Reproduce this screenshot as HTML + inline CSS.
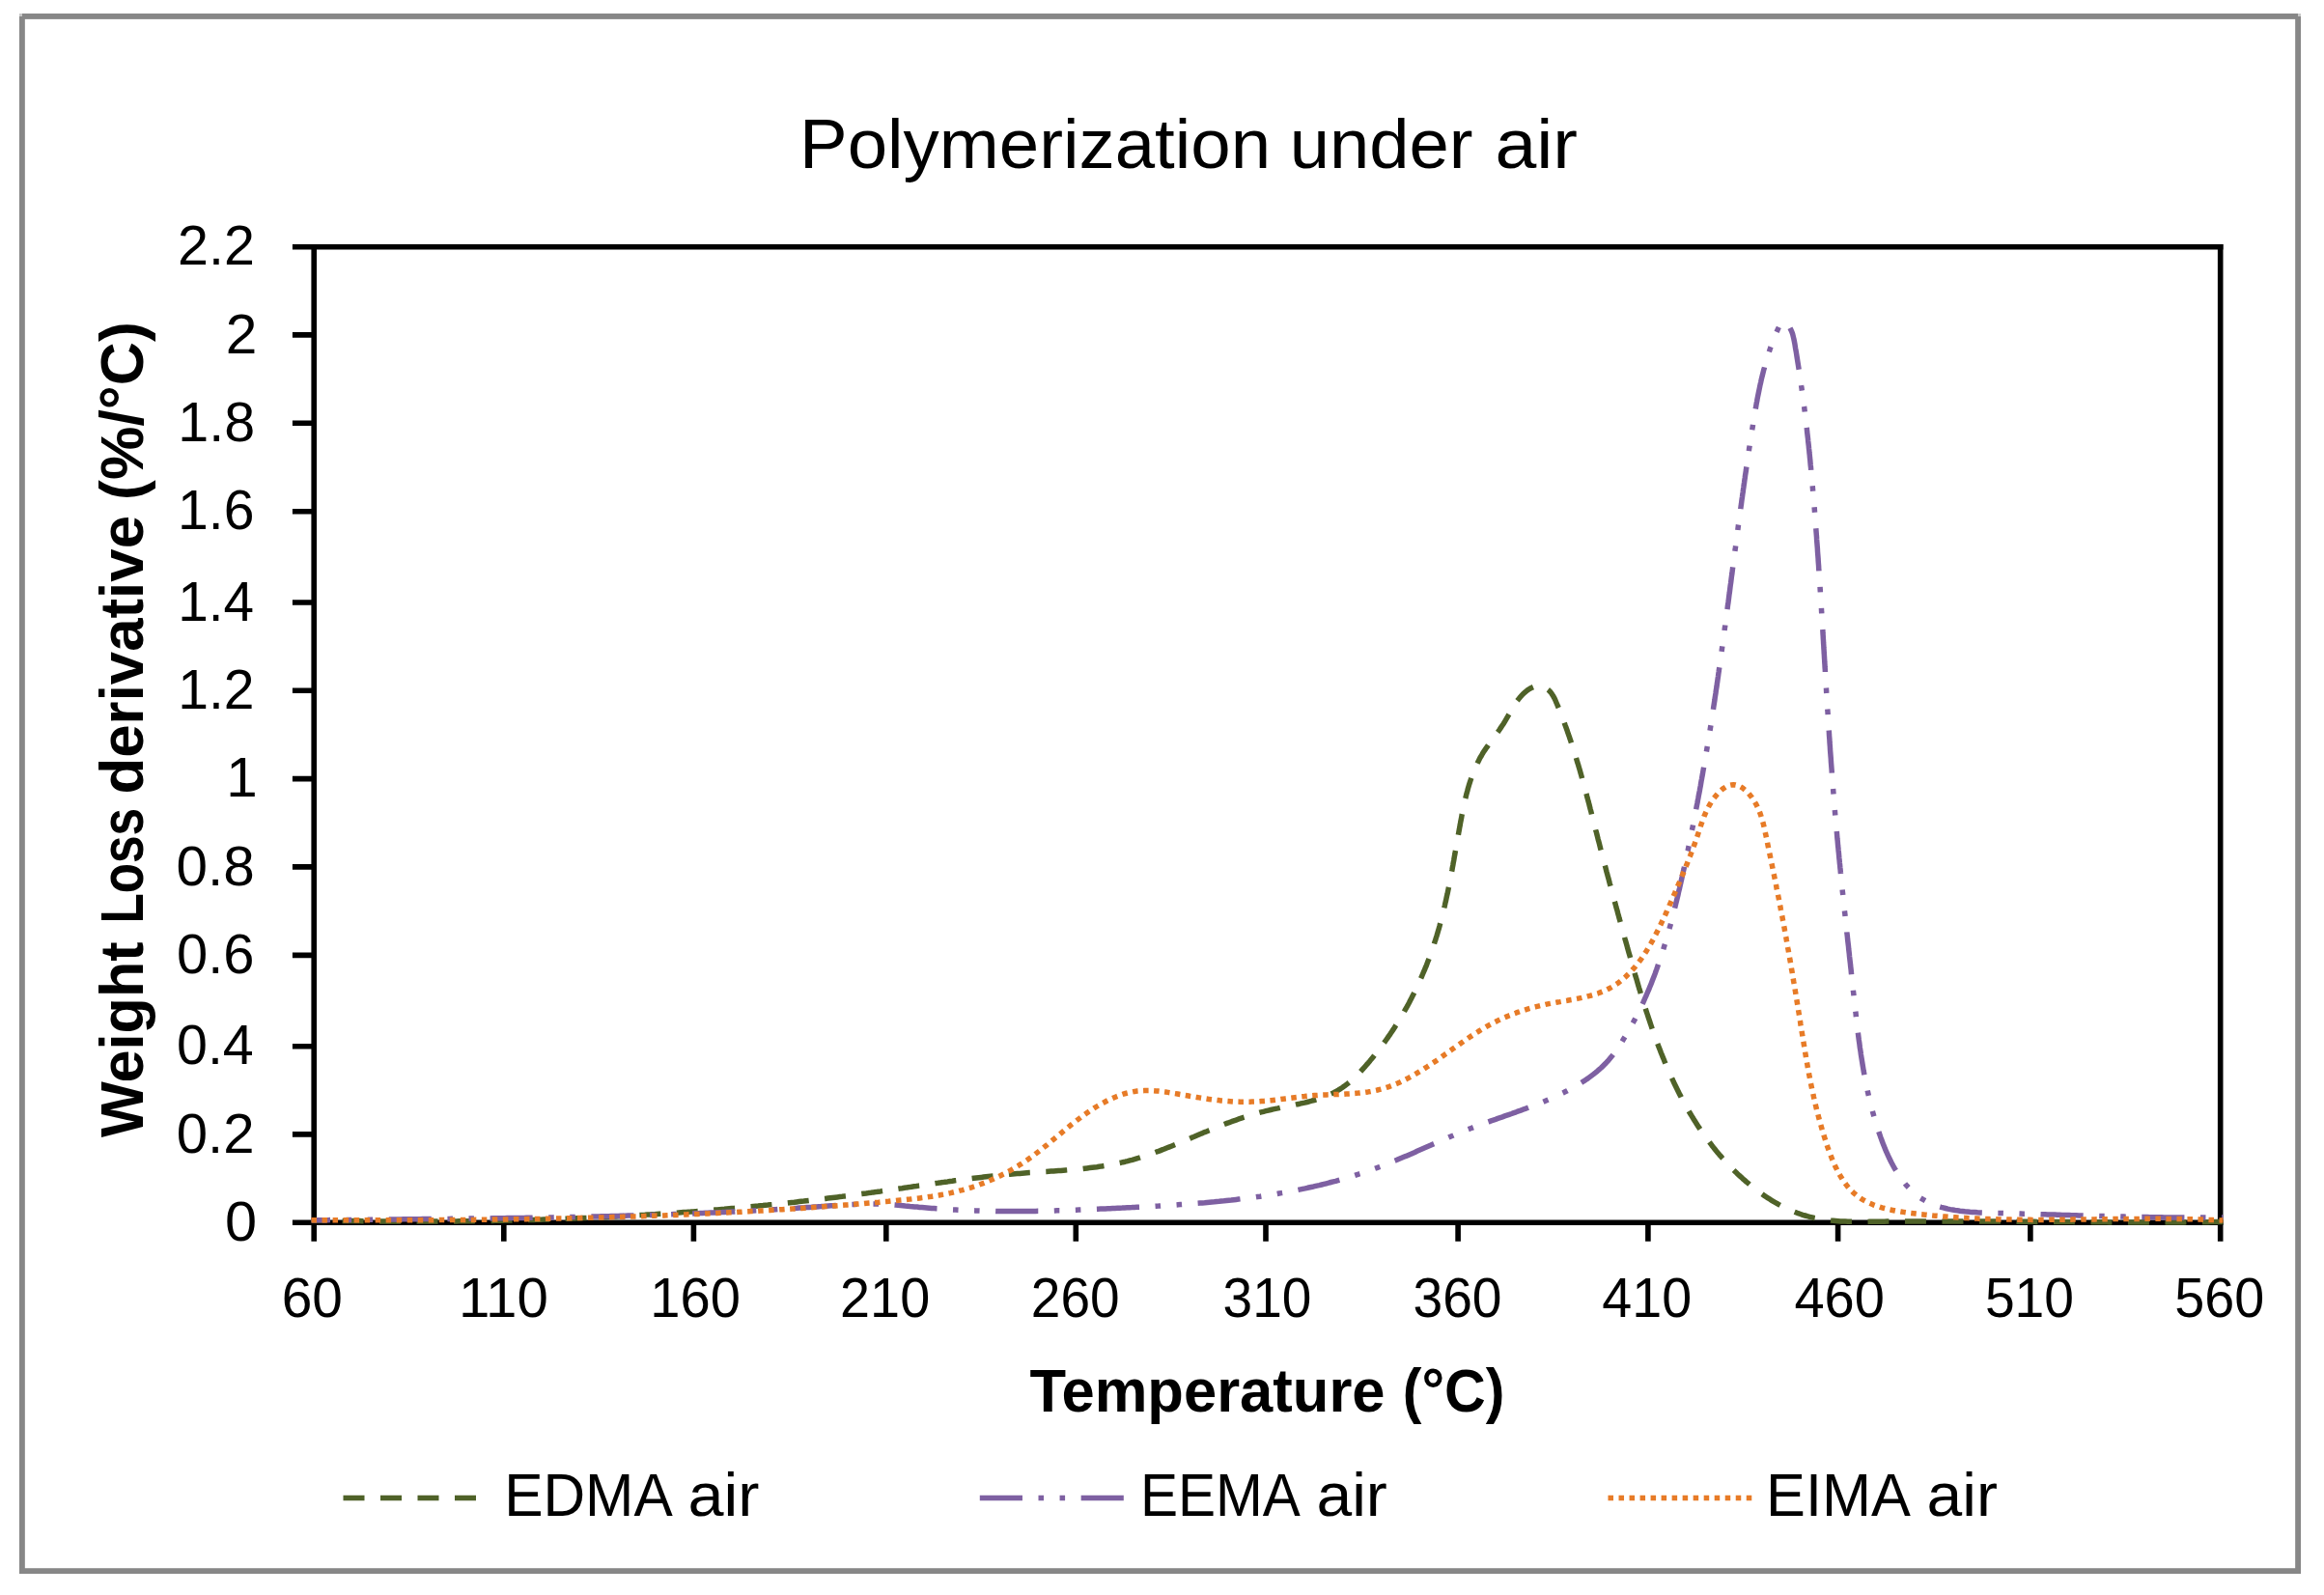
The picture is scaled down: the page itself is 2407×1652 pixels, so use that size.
<!DOCTYPE html>
<html lang="en"><head><meta charset="utf-8"><title>Polymerization under air</title>
<style>html,body{margin:0;padding:0;background:#fff}svg{display:block}text{font-family:'Liberation Sans', Arial, Helvetica, sans-serif;fill:#000}</style></head><body>
<svg width="2407" height="1652" viewBox="0 0 2407 1652">
<rect x="0" y="0" width="2407" height="1652" fill="#fff"/>
<rect x="22.9" y="16.95" width="2357.2" height="1610.2" fill="none" stroke="#878787" stroke-width="5.85"/>
<rect x="20" y="14" width="3" height="3" fill="#c8c8c8"/><rect x="2380" y="14" width="3" height="3" fill="#c8c8c8"/>
<text id="title" font-size="71.7" y="174.4"><tspan x="828.0" textLength="488.1" lengthAdjust="spacingAndGlyphs">Polymerization</tspan> <tspan x="1335.7" textLength="189.8" lengthAdjust="spacingAndGlyphs">under</tspan> <tspan x="1548.4" textLength="85.6" lengthAdjust="spacingAndGlyphs">air</tspan></text>
<g stroke="#000" stroke-width="5.6" fill="none" stroke-linecap="butt">
<path d="M325.2 252.9V1285.8"/>
<path d="M2299.7 252.9V1285.8"/>
<path d="M302.9 255.7H2302.5"/>
<path d="M302.9 1266.2H2302.5"/>
<path d="M302.9 1174.9H325.2M302.9 1083.7H325.2M302.9 989.4H325.2M302.9 897.9H325.2M302.9 806.6H325.2M302.9 715.3H325.2M302.9 624.0H325.2M302.9 529.7H325.2M302.9 438.3H325.2M302.9 346.9H325.2"/>
<path d="M521.8 1266.2V1285.8M718.4 1266.2V1285.8M917.8 1266.2V1285.8M1114.3 1266.2V1285.8M1311.0 1266.2V1285.8M1510.1 1266.2V1285.8M1706.9 1266.2V1285.8M1903.6 1266.2V1285.8M2102.9 1266.2V1285.8"/>
</g>
<text id="xl60" font-size="57" y="1363.8"><tspan x="291.7" textLength="63.2" lengthAdjust="spacingAndGlyphs">60</tspan></text>
<text id="xl110" font-size="57" y="1363.8"><tspan x="475.0" textLength="92.8" lengthAdjust="spacingAndGlyphs">110</tspan></text>
<text id="xl160" font-size="57" y="1363.8"><tspan x="673.3" textLength="93.6" lengthAdjust="spacingAndGlyphs">160</tspan></text>
<text id="xl210" font-size="57" y="1363.8"><tspan x="870.1" textLength="93.1" lengthAdjust="spacingAndGlyphs">210</tspan></text>
<text id="xl260" font-size="57" y="1363.8"><tspan x="1067.8" textLength="91.8" lengthAdjust="spacingAndGlyphs">260</tspan></text>
<text id="xl310" font-size="57" y="1363.8"><tspan x="1266.6" textLength="91.8" lengthAdjust="spacingAndGlyphs">310</tspan></text>
<text id="xl360" font-size="57" y="1363.8"><tspan x="1463.5" textLength="92.0" lengthAdjust="spacingAndGlyphs">360</tspan></text>
<text id="xl410" font-size="57" y="1363.8"><tspan x="1659.3" textLength="92.8" lengthAdjust="spacingAndGlyphs">410</tspan></text>
<text id="xl460" font-size="57" y="1363.8"><tspan x="1858.4" textLength="93.5" lengthAdjust="spacingAndGlyphs">460</tspan></text>
<text id="xl510" font-size="57" y="1363.8"><tspan x="2055.9" textLength="92.1" lengthAdjust="spacingAndGlyphs">510</tspan></text>
<text id="xl560" font-size="57" y="1363.8"><tspan x="2252.3" textLength="93.0" lengthAdjust="spacingAndGlyphs">560</tspan></text>
<text id="yl0" font-size="57" y="1284.8"><tspan x="233.1" textLength="33.1" lengthAdjust="spacingAndGlyphs">0</tspan></text>
<text id="yl0.2" font-size="57" y="1193.5"><tspan x="182.7" textLength="80.8" lengthAdjust="spacingAndGlyphs">0.2</tspan></text>
<text id="yl0.4" font-size="57" y="1102.3"><tspan x="183.0" textLength="79.8" lengthAdjust="spacingAndGlyphs">0.4</tspan></text>
<text id="yl0.6" font-size="57" y="1008.0"><tspan x="183.0" textLength="80.5" lengthAdjust="spacingAndGlyphs">0.6</tspan></text>
<text id="yl0.8" font-size="57" y="916.5"><tspan x="182.6" textLength="81.3" lengthAdjust="spacingAndGlyphs">0.8</tspan></text>
<text id="yl1" font-size="57" y="825.2"><tspan x="234.2" textLength="32.4" lengthAdjust="spacingAndGlyphs">1</tspan></text>
<text id="yl1.2" font-size="57" y="733.9"><tspan x="184.3" textLength="79.3" lengthAdjust="spacingAndGlyphs">1.2</tspan></text>
<text id="yl1.4" font-size="57" y="642.6"><tspan x="184.3" textLength="78.8" lengthAdjust="spacingAndGlyphs">1.4</tspan></text>
<text id="yl1.6" font-size="57" y="548.3"><tspan x="184.1" textLength="79.3" lengthAdjust="spacingAndGlyphs">1.6</tspan></text>
<text id="yl1.8" font-size="57" y="456.9"><tspan x="184.3" textLength="79.8" lengthAdjust="spacingAndGlyphs">1.8</tspan></text>
<text id="yl2" font-size="57" y="365.5"><tspan x="233.7" textLength="32.6" lengthAdjust="spacingAndGlyphs">2</tspan></text>
<text id="yl2.2" font-size="57" y="274.3"><tspan x="184.1" textLength="79.8" lengthAdjust="spacingAndGlyphs">2.2</tspan></text>
<text id="xtitle" font-size="63.5" font-weight="bold" y="1462.3"><tspan x="1066.4" textLength="368.2" lengthAdjust="spacingAndGlyphs">Temperature</tspan> <tspan x="1452.8" textLength="105.7" lengthAdjust="spacingAndGlyphs">(°C)</tspan></text>
<text id="ytitle" font-size="63.5" font-weight="bold" transform="translate(148.3 0) rotate(-90)" y="0"><tspan x="-1178.0" textLength="202.6" lengthAdjust="spacingAndGlyphs">Weight</tspan> <tspan x="-956.6" textLength="119.5" lengthAdjust="spacingAndGlyphs">Loss</tspan> <tspan x="-822.5" textLength="288.5" lengthAdjust="spacingAndGlyphs">derivative</tspan> <tspan x="-517.9" textLength="184.6" lengthAdjust="spacingAndGlyphs">(%/°C)</tspan></text>
<g fill="none" stroke-width="5.5" stroke-linecap="butt" stroke-linejoin="round">
<path id="cg" d="M322.4 1264.1 L324.9 1263.8 L327.4 1263.9 L329.9 1263.9 L332.4 1264.0 L334.9 1264.0 L337.4 1264.1 L339.9 1264.1 L342.4 1264.2 L344.9 1264.2 L347.4 1264.3 L349.9 1264.3 L352.4 1264.3 L354.9 1264.4 L357.5 1264.4 L360.0 1264.5 L362.5 1264.5 L365.0 1264.5 L367.5 1264.6 L370.0 1264.6 L372.5 1264.6 L375.0 1264.7 L377.5 1264.7 L380.0 1264.7 L382.5 1264.8 L385.0 1264.8 L387.5 1264.8 L390.0 1264.8 L392.5 1264.9 L395.0 1264.9 L397.5 1264.9 L400.0 1264.9 L402.6 1264.9 L405.1 1265.0 L407.6 1265.0 L410.1 1265.0 L412.6 1265.0 L415.1 1265.0 L417.6 1265.0 L420.1 1265.0 L422.6 1265.0 L425.1 1265.0 L427.6 1265.0 L430.1 1265.0 L432.6 1265.0 L435.1 1265.0 L437.6 1265.0 L440.1 1265.0 L442.6 1265.0 L445.1 1265.0 L447.7 1265.0 L450.2 1265.0 L452.7 1265.0 L455.2 1265.0 L457.7 1265.0 L460.2 1265.0 L462.7 1264.9 L465.2 1264.9 L467.7 1264.9 L470.2 1264.9 L472.7 1264.9 L475.2 1264.8 L477.7 1264.8 L480.2 1264.8 L482.7 1264.8 L485.2 1264.7 L487.7 1264.7 L490.2 1264.7 L492.7 1264.6 L495.3 1264.6 L497.8 1264.6 L500.3 1264.5 L502.8 1264.5 L505.3 1264.5 L507.8 1264.4 L510.3 1264.4 L512.8 1264.3 L515.3 1264.3 L517.8 1264.2 L520.3 1264.2 L522.8 1264.1 L525.3 1264.1 L527.8 1264.0 L530.3 1264.0 L532.8 1263.9 L535.3 1263.8 L537.8 1263.8 L540.3 1263.7 L542.8 1263.6 L545.3 1263.6 L547.9 1263.5 L550.4 1263.4 L552.9 1263.4 L555.4 1263.3 L557.9 1263.2 L560.4 1263.2 L562.9 1263.1 L565.4 1263.0 L567.9 1262.9 L570.4 1262.8 L572.9 1262.7 L575.4 1262.7 L577.9 1262.6 L580.4 1262.5 L582.9 1262.4 L585.4 1262.3 L587.9 1262.2 L590.4 1262.1 L592.9 1262.0 L595.4 1261.9 L597.9 1261.8 L600.4 1261.7 L602.9 1261.6 L605.4 1261.5 L607.9 1261.4 L610.4 1261.3 L612.9 1261.2 L615.4 1261.1 L617.9 1260.9 L620.4 1260.8 L622.9 1260.7 L625.4 1260.6 L627.9 1260.5 L630.4 1260.3 L632.9 1260.2 L635.4 1260.1 L637.9 1260.0 L640.4 1259.8 L642.9 1259.7 L645.4 1259.6 L647.9 1259.4 L650.4 1259.3 L652.9 1259.2 L655.4 1259.0 L657.9 1258.9 L660.4 1258.7 L662.9 1258.6 L665.4 1258.4 L667.9 1258.3 L670.4 1258.1 L672.9 1258.0 L675.4 1257.8 L677.9 1257.7 L680.4 1257.5 L682.9 1257.3 L685.4 1257.2 L687.9 1257.0 L690.4 1256.8 L692.9 1256.7 L695.4 1256.5 L697.9 1256.3 L700.4 1256.2 L702.9 1256.0 L705.4 1255.8 L707.9 1255.6 L710.4 1255.4 L712.9 1255.2 L715.4 1255.1 L717.9 1254.9 L720.4 1254.7 L722.9 1254.5 L725.4 1254.3 L727.9 1254.1 L730.4 1253.9 L732.9 1253.7 L735.4 1253.5 L737.9 1253.3 L740.4 1253.1 L742.8 1252.9 L745.3 1252.7 L747.8 1252.5 L750.3 1252.3 L752.8 1252.0 L755.3 1251.8 L757.8 1251.6 L760.3 1251.4 L762.8 1251.2 L765.3 1250.9 L767.8 1250.7 L770.3 1250.5 L772.8 1250.2 L775.3 1250.0 L777.7 1249.8 L780.2 1249.5 L782.7 1249.3 L785.2 1249.1 L787.7 1248.8 L790.2 1248.6 L792.7 1248.3 L795.2 1248.1 L797.7 1247.8 L800.2 1247.6 L802.7 1247.3 L805.1 1247.0 L807.6 1246.8 L810.1 1246.5 L812.6 1246.3 L815.1 1246.0 L817.6 1245.7 L820.1 1245.4 L822.6 1245.2 L825.1 1244.9 L827.5 1244.6 L830.0 1244.3 L832.5 1244.1 L835.0 1243.8 L837.5 1243.5 L840.0 1243.2 L842.5 1242.9 L844.9 1242.6 L847.4 1242.3 L849.9 1242.0 L852.4 1241.7 L854.9 1241.4 L857.4 1241.1 L859.9 1240.8 L862.3 1240.5 L864.8 1240.2 L867.3 1239.9 L869.8 1239.6 L872.3 1239.3 L874.8 1238.9 L877.2 1238.6 L879.7 1238.3 L882.2 1238.0 L884.7 1237.6 L887.2 1237.3 L889.7 1237.0 L892.1 1236.6 L894.6 1236.3 L897.1 1236.0 L899.6 1235.6 L902.1 1235.3 L904.5 1234.9 L907.0 1234.6 L909.5 1234.2 L912.0 1233.9 L914.5 1233.5 L916.9 1233.2 L919.4 1232.8 L921.9 1232.5 L924.4 1232.1 L926.8 1231.7 L929.3 1231.4 L931.8 1231.0 L934.3 1230.7 L936.8 1230.3 L939.2 1229.9 L941.7 1229.6 L944.2 1229.2 L946.7 1228.8 L949.1 1228.5 L951.6 1228.1 L954.1 1227.8 L956.6 1227.4 L959.1 1227.0 L961.5 1226.7 L964.0 1226.3 L966.5 1226.0 L969.0 1225.6 L971.5 1225.3 L973.9 1224.9 L976.4 1224.6 L978.9 1224.2 L981.4 1223.9 L983.9 1223.5 L986.3 1223.2 L988.8 1222.8 L991.3 1222.5 L993.8 1222.2 L996.3 1221.9 L998.8 1221.5 L1001.3 1221.2 L1003.7 1220.9 L1006.2 1220.6 L1008.7 1220.3 L1011.2 1220.0 L1013.7 1219.7 L1016.2 1219.4 L1018.7 1219.1 L1021.2 1218.8 L1023.6 1218.5 L1026.1 1218.2 L1028.6 1218.0 L1031.1 1217.7 L1033.6 1217.5 L1036.1 1217.2 L1038.6 1217.0 L1041.1 1216.7 L1043.6 1216.5 L1046.1 1216.2 L1048.6 1216.0 L1051.1 1215.8 L1053.6 1215.6 L1056.1 1215.4 L1058.6 1215.2 L1061.1 1215.0 L1063.6 1214.8 L1066.1 1214.6 L1068.6 1214.5 L1071.1 1214.3 L1073.6 1214.1 L1076.2 1214.0 L1078.7 1213.8 L1081.2 1213.6 L1083.7 1213.5 L1086.2 1213.3 L1088.7 1213.1 L1091.2 1213.0 L1093.7 1212.8 L1096.2 1212.6 L1098.7 1212.4 L1101.2 1212.2 L1103.7 1212.0 L1106.2 1211.8 L1108.7 1211.6 L1111.2 1211.4 L1113.7 1211.2 L1116.2 1211.0 L1118.7 1210.7 L1121.2 1210.5 L1123.6 1210.2 L1126.1 1209.9 L1128.6 1209.6 L1131.1 1209.3 L1133.6 1209.0 L1136.0 1208.7 L1138.5 1208.3 L1141.0 1207.9 L1143.4 1207.6 L1145.9 1207.2 L1148.3 1206.7 L1150.8 1206.3 L1153.2 1205.8 L1155.7 1205.3 L1158.1 1204.8 L1160.6 1204.3 L1163.0 1203.7 L1165.4 1203.2 L1167.8 1202.6 L1170.3 1201.9 L1172.7 1201.3 L1175.1 1200.6 L1177.5 1199.9 L1179.9 1199.2 L1182.3 1198.4 L1184.7 1197.7 L1187.1 1196.9 L1189.4 1196.1 L1191.8 1195.2 L1194.2 1194.4 L1196.6 1193.5 L1198.9 1192.7 L1201.3 1191.8 L1203.6 1190.9 L1206.0 1190.0 L1208.3 1189.0 L1210.7 1188.1 L1213.0 1187.2 L1215.4 1186.2 L1217.7 1185.3 L1220.0 1184.3 L1222.4 1183.3 L1224.7 1182.4 L1227.0 1181.4 L1229.3 1180.4 L1231.7 1179.4 L1234.0 1178.4 L1236.3 1177.5 L1238.6 1176.5 L1240.9 1175.5 L1243.2 1174.5 L1245.5 1173.6 L1247.8 1172.6 L1250.1 1171.7 L1252.4 1170.7 L1254.7 1169.8 L1257.0 1168.9 L1259.3 1167.9 L1261.6 1167.0 L1263.9 1166.1 L1266.2 1165.2 L1268.5 1164.3 L1270.8 1163.4 L1273.1 1162.6 L1275.5 1161.7 L1277.8 1160.9 L1280.1 1160.1 L1282.4 1159.2 L1284.8 1158.4 L1287.1 1157.6 L1289.5 1156.9 L1291.9 1156.1 L1294.2 1155.4 L1296.6 1154.6 L1299.0 1153.9 L1301.4 1153.2 L1303.8 1152.6 L1306.2 1151.9 L1308.7 1151.3 L1311.1 1150.7 L1313.6 1150.1 L1316.1 1149.5 L1318.6 1148.9 L1321.1 1148.4 L1323.6 1147.9 L1326.1 1147.3 L1328.6 1146.8 L1331.1 1146.3 L1333.6 1145.8 L1336.2 1145.3 L1338.7 1144.8 L1341.2 1144.3 L1343.7 1143.7 L1346.2 1143.2 L1348.7 1142.6 L1351.2 1142.1 L1353.7 1141.5 L1356.1 1140.8 L1358.6 1140.2 L1361.0 1139.5 L1363.4 1138.8 L1365.8 1138.0 L1368.2 1137.2 L1370.5 1136.4 L1372.8 1135.5 L1375.1 1134.6 L1377.3 1133.6 L1379.6 1132.6 L1381.8 1131.5 L1383.9 1130.3 L1386.0 1129.1 L1388.1 1127.8 L1390.2 1126.5 L1392.2 1125.1 L1394.1 1123.6 L1396.1 1122.1 L1398.0 1120.5 L1399.8 1118.9 L1401.7 1117.2 L1403.5 1115.5 L1405.3 1113.8 L1407.0 1112.0 L1408.8 1110.2 L1410.5 1108.3 L1412.2 1106.5 L1413.9 1104.6 L1415.5 1102.7 L1417.2 1100.8 L1418.8 1098.9 L1420.4 1096.9 L1422.0 1095.0 L1423.6 1093.0 L1425.2 1091.1 L1426.7 1089.1 L1428.3 1087.1 L1429.8 1085.1 L1431.3 1083.1 L1432.8 1081.0 L1434.3 1079.0 L1435.7 1077.0 L1437.2 1074.9 L1438.6 1072.8 L1440.0 1070.8 L1441.4 1068.7 L1442.8 1066.6 L1444.2 1064.5 L1445.5 1062.3 L1446.9 1060.2 L1448.2 1058.1 L1449.5 1055.9 L1450.8 1053.8 L1452.1 1051.6 L1453.4 1049.5 L1454.6 1047.3 L1455.8 1045.1 L1457.1 1042.9 L1458.3 1040.7 L1459.5 1038.5 L1460.6 1036.3 L1461.8 1034.0 L1462.9 1031.8 L1464.1 1029.5 L1465.2 1027.3 L1466.3 1025.0 L1467.4 1022.8 L1468.4 1020.5 L1469.5 1018.2 L1470.5 1015.9 L1471.5 1013.6 L1472.5 1011.3 L1473.5 1009.0 L1474.5 1006.7 L1475.5 1004.4 L1476.4 1002.1 L1477.4 999.8 L1478.3 997.4 L1479.2 995.1 L1480.1 992.8 L1480.9 990.4 L1481.8 988.1 L1482.6 985.7 L1483.5 983.4 L1484.3 981.0 L1485.1 978.6 L1485.8 976.2 L1486.6 973.9 L1487.3 971.5 L1488.1 969.1 L1488.8 966.7 L1489.5 964.3 L1490.2 961.9 L1490.9 959.5 L1491.5 957.1 L1492.2 954.7 L1492.8 952.3 L1493.4 949.9 L1494.0 947.5 L1494.6 945.1 L1495.2 942.7 L1495.8 940.2 L1496.4 937.8 L1496.9 935.4 L1497.5 933.0 L1498.0 930.5 L1498.5 928.1 L1499.1 925.7 L1499.6 923.2 L1500.1 920.8 L1500.6 918.3 L1501.1 915.9 L1501.5 913.4 L1502.0 911.0 L1502.5 908.5 L1503.0 906.1 L1503.4 903.6 L1503.9 901.2 L1504.3 898.7 L1504.8 896.2 L1505.2 893.8 L1505.7 891.3 L1506.1 888.8 L1506.5 886.4 L1507.0 883.9 L1507.4 881.4 L1507.9 878.9 L1508.3 876.5 L1508.7 874.0 L1509.2 871.5 L1509.6 869.0 L1510.0 866.5 L1510.5 864.1 L1510.9 861.6 L1511.4 859.1 L1511.8 856.6 L1512.3 854.1 L1512.7 851.6 L1513.2 849.1 L1513.7 846.6 L1514.1 844.1 L1514.6 841.6 L1515.1 839.2 L1515.6 836.7 L1516.2 834.2 L1516.7 831.7 L1517.2 829.3 L1517.8 826.8 L1518.4 824.4 L1519.0 821.9 L1519.7 819.5 L1520.3 817.1 L1521.0 814.7 L1521.7 812.3 L1522.5 809.9 L1523.3 807.5 L1524.1 805.2 L1524.9 802.8 L1525.8 800.5 L1526.7 798.2 L1527.7 795.9 L1528.7 793.7 L1529.7 791.4 L1530.8 789.2 L1531.9 787.0 L1533.0 784.8 L1534.3 782.7 L1535.5 780.5 L1536.8 778.4 L1538.2 776.4 L1539.6 774.3 L1541.0 772.3 L1542.5 770.2 L1543.9 768.2 L1545.4 766.2 L1546.9 764.2 L1548.4 762.1 L1549.9 760.1 L1551.4 758.1 L1552.9 756.0 L1554.3 753.9 L1555.7 751.8 L1557.1 749.7 L1558.4 747.6 L1559.7 745.4 L1561.0 743.2 L1562.2 741.0 L1563.5 738.8 L1564.7 736.6 L1566.0 734.4 L1567.3 732.2 L1568.6 730.1 L1570.0 728.0 L1571.4 725.9 L1573.0 723.9 L1574.5 722.0 L1576.2 720.1 L1578.0 718.3 L1579.9 716.6 L1582.0 714.9 L1584.1 713.5 L1586.4 712.3 L1588.7 711.3 L1591.0 710.7 L1593.4 710.5 L1595.8 710.6 L1598.0 711.2 L1600.2 712.1 L1602.2 713.4 L1604.0 714.8 L1605.6 716.5 L1607.1 718.4 L1608.4 720.4 L1609.6 722.6 L1610.7 724.8 L1611.7 727.2 L1612.7 729.5 L1613.7 731.9 L1614.7 734.2 L1615.6 736.6 L1616.5 739.0 L1617.5 741.4 L1618.4 743.7 L1619.3 746.1 L1620.2 748.5 L1621.0 750.9 L1621.9 753.3 L1622.8 755.7 L1623.6 758.1 L1624.4 760.5 L1625.3 762.9 L1626.1 765.3 L1626.9 767.7 L1627.7 770.1 L1628.5 772.5 L1629.2 774.9 L1630.0 777.3 L1630.8 779.7 L1631.5 782.1 L1632.3 784.5 L1633.0 787.0 L1633.7 789.4 L1634.5 791.8 L1635.2 794.2 L1635.9 796.6 L1636.6 799.1 L1637.3 801.5 L1638.0 803.9 L1638.6 806.3 L1639.3 808.8 L1640.0 811.2 L1640.7 813.6 L1641.3 816.0 L1642.0 818.5 L1642.6 820.9 L1643.3 823.3 L1643.9 825.8 L1644.6 828.2 L1645.2 830.6 L1645.9 833.0 L1646.5 835.5 L1647.1 837.9 L1647.8 840.3 L1648.4 842.8 L1649.0 845.2 L1649.6 847.6 L1650.3 850.0 L1650.9 852.4 L1651.5 854.9 L1652.1 857.3 L1652.7 859.7 L1653.4 862.1 L1654.0 864.5 L1654.6 866.9 L1655.2 869.4 L1655.9 871.8 L1656.5 874.2 L1657.1 876.6 L1657.7 879.0 L1658.4 881.4 L1659.0 883.8 L1659.6 886.2 L1660.2 888.6 L1660.9 891.0 L1661.5 893.4 L1662.1 895.8 L1662.8 898.2 L1663.4 900.6 L1664.0 903.0 L1664.7 905.4 L1665.3 907.8 L1666.0 910.1 L1666.6 912.5 L1667.2 914.9 L1667.9 917.3 L1668.5 919.7 L1669.2 922.1 L1669.8 924.5 L1670.5 926.9 L1671.1 929.3 L1671.8 931.7 L1672.4 934.1 L1673.1 936.4 L1673.7 938.8 L1674.4 941.2 L1675.1 943.6 L1675.7 946.0 L1676.4 948.4 L1677.0 950.8 L1677.7 953.2 L1678.4 955.6 L1679.0 958.0 L1679.7 960.4 L1680.4 962.8 L1681.0 965.2 L1681.7 967.6 L1682.4 970.0 L1683.0 972.4 L1683.7 974.8 L1684.4 977.2 L1685.1 979.7 L1685.7 982.1 L1686.4 984.5 L1687.1 986.9 L1687.8 989.3 L1688.5 991.8 L1689.2 994.2 L1689.8 996.6 L1690.5 999.0 L1691.2 1001.5 L1691.9 1003.9 L1692.6 1006.3 L1693.3 1008.8 L1694.0 1011.2 L1694.8 1013.6 L1695.5 1016.0 L1696.2 1018.5 L1696.9 1020.9 L1697.6 1023.3 L1698.4 1025.8 L1699.1 1028.2 L1699.8 1030.6 L1700.6 1033.0 L1701.3 1035.5 L1702.1 1037.9 L1702.9 1040.3 L1703.6 1042.7 L1704.4 1045.2 L1705.2 1047.6 L1706.0 1050.0 L1706.8 1052.4 L1707.6 1054.8 L1708.4 1057.2 L1709.2 1059.6 L1710.0 1062.0 L1710.8 1064.4 L1711.6 1066.8 L1712.5 1069.2 L1713.3 1071.6 L1714.2 1073.9 L1715.1 1076.3 L1715.9 1078.7 L1716.8 1081.1 L1717.7 1083.4 L1718.6 1085.8 L1719.5 1088.1 L1720.4 1090.5 L1721.4 1092.8 L1722.3 1095.2 L1723.3 1097.5 L1724.2 1099.8 L1725.2 1102.1 L1726.2 1104.5 L1727.2 1106.8 L1728.2 1109.1 L1729.2 1111.4 L1730.2 1113.6 L1731.2 1115.9 L1732.3 1118.2 L1733.3 1120.5 L1734.4 1122.7 L1735.5 1125.0 L1736.6 1127.2 L1737.7 1129.5 L1738.8 1131.7 L1739.9 1133.9 L1741.1 1136.1 L1742.2 1138.3 L1743.4 1140.5 L1744.6 1142.7 L1745.8 1144.9 L1747.0 1147.0 L1748.2 1149.2 L1749.4 1151.3 L1750.7 1153.5 L1752.0 1155.6 L1753.3 1157.7 L1754.5 1159.8 L1755.9 1161.9 L1757.2 1164.0 L1758.5 1166.1 L1759.9 1168.1 L1761.3 1170.2 L1762.7 1172.2 L1764.1 1174.2 L1765.5 1176.3 L1766.9 1178.3 L1768.4 1180.3 L1769.9 1182.2 L1771.4 1184.2 L1772.9 1186.2 L1774.4 1188.1 L1775.9 1190.0 L1777.5 1192.0 L1779.1 1193.9 L1780.7 1195.8 L1782.3 1197.6 L1783.9 1199.5 L1785.6 1201.4 L1787.2 1203.2 L1788.9 1205.0 L1790.6 1206.8 L1792.4 1208.6 L1794.1 1210.4 L1795.9 1212.2 L1797.7 1213.9 L1799.5 1215.7 L1801.3 1217.4 L1803.2 1219.1 L1805.0 1220.8 L1806.9 1222.4 L1808.8 1224.1 L1810.8 1225.7 L1812.7 1227.4 L1814.7 1229.0 L1816.7 1230.5 L1818.7 1232.1 L1820.7 1233.6 L1822.8 1235.1 L1824.8 1236.6 L1826.9 1238.1 L1829.0 1239.5 L1831.1 1240.9 L1833.3 1242.2 L1835.4 1243.6 L1837.6 1244.9 L1839.8 1246.1 L1842.0 1247.4 L1844.2 1248.6 L1846.4 1249.7 L1848.7 1250.8 L1850.9 1251.9 L1853.2 1253.0 L1855.5 1254.0 L1857.8 1254.9 L1860.1 1255.8 L1862.4 1256.7 L1864.8 1257.5 L1867.1 1258.3 L1869.5 1259.0 L1871.9 1259.7 L1874.3 1260.3 L1876.7 1260.9 L1879.1 1261.5 L1881.5 1261.9 L1883.9 1262.4 L1886.4 1262.8 L1888.8 1263.2 L1891.3 1263.5 L1893.8 1263.8 L1896.2 1264.1 L1898.7 1264.3 L1901.2 1264.5 L1903.7 1264.7 L1906.2 1264.9 L1908.7 1265.0 L1911.2 1265.1 L1913.8 1265.2 L1916.3 1265.3 L1918.8 1265.3 L1921.3 1265.4 L1923.9 1265.4 L1926.4 1265.4 L1928.9 1265.4 L1931.5 1265.4 L1934.0 1265.4 L1936.5 1265.3 L1939.1 1265.3 L1941.6 1265.3 L1944.2 1265.2 L1946.7 1265.2 L1949.2 1265.2 L1951.8 1265.2 L1954.3 1265.1 L1956.8 1265.1 L1959.4 1265.1 L1961.9 1265.1 L1964.4 1265.1 L1966.9 1265.0 L1969.5 1265.0 L1972.0 1265.0 L1974.5 1265.0 L1977.0 1265.0 L1979.6 1265.0 L1982.1 1265.0 L1984.6 1264.9 L1987.1 1264.9 L1989.6 1264.9 L1992.1 1264.9 L1994.7 1264.9 L1997.2 1264.9 L1999.7 1264.9 L2002.2 1264.9 L2004.7 1264.9 L2007.2 1264.9 L2009.7 1264.9 L2012.2 1264.9 L2014.8 1264.9 L2017.3 1264.9 L2019.8 1264.9 L2022.3 1264.9 L2024.8 1264.9 L2027.3 1264.9 L2029.8 1264.9 L2032.3 1264.9 L2034.8 1264.9 L2037.3 1264.9 L2039.8 1265.0 L2042.3 1265.0 L2044.8 1265.0 L2047.3 1265.0 L2049.8 1265.0 L2052.3 1265.0 L2054.8 1265.0 L2057.3 1265.0 L2059.8 1265.0 L2062.3 1265.1 L2064.8 1265.1 L2067.3 1265.1 L2069.8 1265.1 L2072.3 1265.1 L2074.8 1265.1 L2077.3 1265.1 L2079.8 1265.2 L2082.3 1265.2 L2084.8 1265.2 L2087.3 1265.2 L2089.7 1265.2 L2092.2 1265.2 L2094.7 1265.3 L2097.2 1265.3 L2099.7 1265.3 L2102.2 1265.3 L2104.7 1265.3 L2107.2 1265.3 L2109.7 1265.4 L2112.2 1265.4 L2114.7 1265.4 L2117.2 1265.4 L2119.6 1265.4 L2122.1 1265.5 L2124.6 1265.5 L2127.1 1265.5 L2129.6 1265.5 L2132.1 1265.5 L2134.6 1265.6 L2137.1 1265.6 L2139.6 1265.6 L2142.1 1265.6 L2144.6 1265.6 L2147.0 1265.6 L2149.5 1265.7 L2152.0 1265.7 L2154.5 1265.7 L2157.0 1265.7 L2159.5 1265.7 L2162.0 1265.7 L2164.5 1265.8 L2167.0 1265.8 L2169.5 1265.8 L2172.0 1265.8 L2174.5 1265.8 L2177.0 1265.8 L2179.5 1265.8 L2181.9 1265.8 L2184.4 1265.9 L2186.9 1265.9 L2189.4 1265.9 L2191.9 1265.9 L2194.4 1265.9 L2196.9 1265.9 L2199.4 1265.9 L2201.9 1265.9 L2204.4 1265.9 L2206.9 1265.9 L2209.4 1265.9 L2211.9 1265.9 L2214.4 1266.0 L2216.9 1266.0 L2219.4 1266.0 L2221.9 1266.0 L2224.4 1266.0 L2226.9 1266.0 L2229.4 1266.0 L2231.9 1266.0 L2234.4 1266.0 L2236.9 1266.0 L2239.5 1265.9 L2242.0 1265.9 L2244.5 1265.9 L2247.0 1265.9 L2249.5 1265.9 L2252.0 1265.9 L2254.5 1265.9 L2257.0 1265.9 L2259.5 1265.9 L2262.1 1265.9 L2264.6 1265.8 L2267.1 1265.8 L2269.6 1265.8 L2272.1 1265.8 L2274.6 1265.8 L2277.2 1265.8 L2279.7 1265.7 L2282.2 1265.7 L2284.7 1265.7 L2287.2 1265.7 L2289.8 1265.6 L2292.3 1265.6 L2294.8 1265.6 L2297.4 1265.5 L2299.9 1265.5 L2302.4 1265.5" stroke="#4f6228" stroke-dasharray="22 16.5" stroke-dashoffset="6.3"/>
<path id="cp" d="M322.4 1263.8 L324.9 1263.8 L327.4 1263.8 L329.9 1263.8 L332.4 1263.8 L334.9 1263.7 L337.4 1263.7 L339.9 1263.7 L342.4 1263.6 L344.9 1263.6 L347.5 1263.6 L350.0 1263.5 L352.5 1263.5 L355.0 1263.5 L357.5 1263.5 L360.0 1263.4 L362.5 1263.4 L365.0 1263.4 L367.5 1263.4 L370.0 1263.3 L372.5 1263.3 L375.0 1263.3 L377.5 1263.2 L380.0 1263.2 L382.5 1263.2 L385.0 1263.2 L387.5 1263.1 L390.0 1263.1 L392.5 1263.1 L395.0 1263.1 L397.6 1263.0 L400.1 1263.0 L402.6 1263.0 L405.1 1263.0 L407.6 1262.9 L410.1 1262.9 L412.6 1262.9 L415.1 1262.9 L417.6 1262.8 L420.1 1262.8 L422.6 1262.8 L425.1 1262.8 L427.6 1262.7 L430.1 1262.7 L432.6 1262.7 L435.1 1262.7 L437.6 1262.6 L440.1 1262.6 L442.6 1262.6 L445.1 1262.6 L447.6 1262.5 L450.1 1262.5 L452.6 1262.5 L455.1 1262.5 L457.6 1262.4 L460.1 1262.4 L462.6 1262.4 L465.1 1262.4 L467.6 1262.3 L470.1 1262.3 L472.7 1262.3 L475.2 1262.2 L477.7 1262.2 L480.2 1262.2 L482.7 1262.2 L485.2 1262.1 L487.7 1262.1 L490.2 1262.1 L492.7 1262.0 L495.2 1262.0 L497.7 1262.0 L500.2 1262.0 L502.7 1261.9 L505.2 1261.9 L507.7 1261.9 L510.2 1261.8 L512.7 1261.8 L515.2 1261.8 L517.7 1261.7 L520.2 1261.7 L522.7 1261.7 L525.2 1261.6 L527.7 1261.6 L530.2 1261.6 L532.7 1261.5 L535.2 1261.5 L537.7 1261.5 L540.2 1261.4 L542.7 1261.4 L545.2 1261.3 L547.7 1261.3 L550.2 1261.3 L552.7 1261.2 L555.2 1261.2 L557.7 1261.1 L560.2 1261.1 L562.7 1261.1 L565.2 1261.0 L567.7 1261.0 L570.2 1260.9 L572.7 1260.9 L575.2 1260.8 L577.7 1260.8 L580.2 1260.7 L582.7 1260.7 L585.2 1260.6 L587.7 1260.6 L590.2 1260.6 L592.7 1260.5 L595.2 1260.5 L597.7 1260.4 L600.2 1260.3 L602.7 1260.3 L605.2 1260.2 L607.7 1260.2 L610.2 1260.1 L612.8 1260.1 L615.3 1260.0 L617.8 1260.0 L620.3 1259.9 L622.8 1259.8 L625.3 1259.8 L627.8 1259.7 L630.3 1259.7 L632.8 1259.6 L635.3 1259.5 L637.8 1259.5 L640.3 1259.4 L642.8 1259.3 L645.3 1259.3 L647.8 1259.2 L650.3 1259.1 L652.8 1259.1 L655.3 1259.0 L657.8 1258.9 L660.3 1258.8 L662.8 1258.8 L665.3 1258.7 L667.8 1258.6 L670.3 1258.5 L672.8 1258.5 L675.3 1258.4 L677.8 1258.3 L680.3 1258.2 L682.8 1258.1 L685.3 1258.0 L687.8 1258.0 L690.3 1257.9 L692.8 1257.8 L695.3 1257.7 L697.8 1257.6 L700.3 1257.5 L702.8 1257.4 L705.3 1257.3 L707.8 1257.2 L710.3 1257.1 L712.8 1257.1 L715.3 1257.0 L717.8 1256.9 L720.3 1256.8 L722.8 1256.7 L725.3 1256.5 L727.8 1256.4 L730.3 1256.3 L732.8 1256.2 L735.3 1256.1 L737.8 1256.0 L740.3 1255.9 L742.8 1255.8 L745.4 1255.7 L747.9 1255.6 L750.4 1255.4 L752.9 1255.3 L755.4 1255.2 L757.9 1255.1 L760.4 1255.0 L762.9 1254.8 L765.4 1254.7 L767.9 1254.6 L770.4 1254.5 L772.9 1254.3 L775.4 1254.2 L777.9 1254.1 L780.4 1253.9 L782.9 1253.8 L785.4 1253.7 L787.9 1253.5 L790.4 1253.4 L792.9 1253.3 L795.4 1253.1 L797.9 1253.0 L800.4 1252.8 L802.9 1252.7 L805.4 1252.5 L807.9 1252.4 L810.4 1252.2 L812.9 1252.1 L815.5 1251.9 L818.0 1251.8 L820.5 1251.6 L823.0 1251.4 L825.5 1251.3 L828.0 1251.1 L830.5 1250.9 L833.0 1250.8 L835.5 1250.6 L838.0 1250.4 L840.5 1250.3 L843.0 1250.1 L845.5 1249.9 L848.0 1249.7 L850.5 1249.6 L853.0 1249.4 L855.5 1249.2 L858.0 1249.0 L860.5 1248.8 L863.0 1248.7 L865.5 1248.5 L868.0 1248.3 L870.6 1248.2 L873.1 1248.0 L875.6 1247.9 L878.1 1247.7 L880.6 1247.6 L883.0 1247.5 L885.5 1247.4 L888.0 1247.3 L890.5 1247.2 L893.0 1247.1 L895.5 1247.1 L898.0 1247.1 L900.5 1247.0 L903.0 1247.0 L905.5 1247.0 L907.9 1247.1 L910.4 1247.1 L912.9 1247.2 L915.4 1247.3 L917.8 1247.4 L920.3 1247.5 L922.8 1247.7 L925.2 1247.8 L927.7 1248.0 L930.2 1248.3 L932.6 1248.5 L935.1 1248.7 L937.5 1249.0 L940.0 1249.2 L942.5 1249.5 L945.0 1249.7 L947.4 1249.9 L949.9 1250.1 L952.4 1250.4 L954.9 1250.6 L957.4 1250.8 L959.9 1251.0 L962.4 1251.2 L964.9 1251.4 L967.4 1251.6 L969.9 1251.8 L972.4 1251.9 L974.9 1252.1 L977.4 1252.3 L979.9 1252.5 L982.5 1252.6 L985.0 1252.8 L987.5 1252.9 L990.0 1253.0 L992.5 1253.2 L995.0 1253.3 L997.5 1253.4 L1000.0 1253.5 L1002.5 1253.6 L1005.0 1253.7 L1007.6 1253.8 L1010.1 1253.9 L1012.6 1254.0 L1015.1 1254.1 L1017.6 1254.2 L1020.1 1254.2 L1022.6 1254.3 L1025.1 1254.3 L1027.6 1254.4 L1030.1 1254.4 L1032.6 1254.5 L1035.1 1254.5 L1037.6 1254.5 L1040.1 1254.5 L1042.6 1254.5 L1045.1 1254.6 L1047.6 1254.6 L1050.0 1254.6 L1052.5 1254.6 L1055.0 1254.5 L1057.5 1254.5 L1060.0 1254.5 L1062.5 1254.5 L1065.0 1254.5 L1067.5 1254.4 L1070.0 1254.4 L1072.5 1254.4 L1075.0 1254.3 L1077.5 1254.3 L1080.0 1254.2 L1082.4 1254.2 L1084.9 1254.1 L1087.4 1254.0 L1089.9 1254.0 L1092.4 1253.9 L1094.9 1253.8 L1097.4 1253.8 L1099.9 1253.7 L1102.4 1253.6 L1104.9 1253.5 L1107.4 1253.4 L1109.9 1253.3 L1112.4 1253.3 L1114.8 1253.2 L1117.3 1253.1 L1119.8 1253.0 L1122.3 1252.9 L1124.8 1252.8 L1127.3 1252.7 L1129.8 1252.6 L1132.3 1252.5 L1134.8 1252.3 L1137.3 1252.2 L1139.8 1252.1 L1142.3 1252.0 L1144.8 1251.9 L1147.3 1251.8 L1149.8 1251.7 L1152.3 1251.5 L1154.8 1251.4 L1157.3 1251.3 L1159.8 1251.2 L1162.3 1251.1 L1164.8 1250.9 L1167.3 1250.8 L1169.8 1250.7 L1172.4 1250.6 L1174.9 1250.4 L1177.4 1250.3 L1179.9 1250.2 L1182.4 1250.1 L1184.9 1249.9 L1187.4 1249.8 L1189.9 1249.6 L1192.4 1249.5 L1194.9 1249.4 L1197.5 1249.2 L1200.0 1249.1 L1202.5 1248.9 L1205.0 1248.8 L1207.5 1248.6 L1210.0 1248.5 L1212.5 1248.3 L1215.0 1248.1 L1217.6 1248.0 L1220.1 1247.8 L1222.6 1247.6 L1225.1 1247.4 L1227.6 1247.3 L1230.1 1247.1 L1232.6 1246.9 L1235.1 1246.7 L1237.7 1246.5 L1240.2 1246.3 L1242.7 1246.1 L1245.2 1245.9 L1247.7 1245.7 L1250.2 1245.4 L1252.7 1245.2 L1255.2 1245.0 L1257.7 1244.8 L1260.2 1244.5 L1262.7 1244.3 L1265.2 1244.0 L1267.7 1243.8 L1270.2 1243.5 L1272.7 1243.2 L1275.2 1243.0 L1277.7 1242.7 L1280.2 1242.4 L1282.7 1242.1 L1285.2 1241.8 L1287.7 1241.5 L1290.2 1241.2 L1292.7 1240.9 L1295.2 1240.5 L1297.6 1240.2 L1300.1 1239.9 L1302.6 1239.5 L1305.1 1239.2 L1307.6 1238.8 L1310.0 1238.4 L1312.5 1238.0 L1315.0 1237.7 L1317.5 1237.3 L1319.9 1236.9 L1322.4 1236.5 L1324.9 1236.0 L1327.3 1235.6 L1329.8 1235.2 L1332.3 1234.7 L1334.7 1234.3 L1337.2 1233.8 L1339.6 1233.4 L1342.1 1232.9 L1344.5 1232.4 L1347.0 1231.9 L1349.4 1231.4 L1351.8 1230.9 L1354.3 1230.3 L1356.7 1229.8 L1359.2 1229.3 L1361.6 1228.7 L1364.0 1228.1 L1366.4 1227.6 L1368.9 1227.0 L1371.3 1226.4 L1373.7 1225.8 L1376.1 1225.2 L1378.5 1224.5 L1380.9 1223.9 L1383.3 1223.3 L1385.7 1222.6 L1388.1 1221.9 L1390.5 1221.2 L1392.9 1220.6 L1395.3 1219.8 L1397.7 1219.1 L1400.1 1218.4 L1402.4 1217.7 L1404.8 1216.9 L1407.2 1216.1 L1409.6 1215.4 L1411.9 1214.6 L1414.3 1213.8 L1416.6 1213.0 L1419.0 1212.1 L1421.3 1211.3 L1423.7 1210.4 L1426.0 1209.6 L1428.4 1208.7 L1430.7 1207.8 L1433.0 1206.9 L1435.3 1206.0 L1437.7 1205.1 L1440.0 1204.1 L1442.3 1203.2 L1444.6 1202.2 L1446.9 1201.3 L1449.2 1200.3 L1451.6 1199.3 L1453.9 1198.3 L1456.2 1197.4 L1458.5 1196.4 L1460.8 1195.4 L1463.1 1194.4 L1465.4 1193.4 L1467.7 1192.3 L1470.0 1191.3 L1472.3 1190.3 L1474.6 1189.3 L1476.9 1188.3 L1479.2 1187.3 L1481.5 1186.3 L1483.8 1185.2 L1486.1 1184.2 L1488.4 1183.2 L1490.7 1182.2 L1493.0 1181.2 L1495.3 1180.2 L1497.6 1179.2 L1499.9 1178.2 L1502.2 1177.2 L1504.5 1176.3 L1506.8 1175.3 L1509.2 1174.3 L1511.5 1173.4 L1513.8 1172.4 L1516.1 1171.5 L1518.5 1170.5 L1520.8 1169.6 L1523.1 1168.7 L1525.5 1167.8 L1527.8 1166.9 L1530.2 1166.0 L1532.5 1165.2 L1534.9 1164.3 L1537.2 1163.5 L1539.6 1162.6 L1541.9 1161.8 L1544.3 1160.9 L1546.7 1160.1 L1549.0 1159.3 L1551.4 1158.4 L1553.8 1157.6 L1556.1 1156.8 L1558.5 1155.9 L1560.8 1155.1 L1563.2 1154.3 L1565.6 1153.5 L1567.9 1152.6 L1570.3 1151.8 L1572.6 1150.9 L1575.0 1150.1 L1577.3 1149.2 L1579.7 1148.4 L1582.0 1147.5 L1584.3 1146.6 L1586.7 1145.8 L1589.0 1144.9 L1591.3 1144.0 L1593.7 1143.0 L1596.0 1142.1 L1598.3 1141.2 L1600.6 1140.2 L1602.9 1139.2 L1605.2 1138.2 L1607.5 1137.2 L1609.7 1136.2 L1612.0 1135.2 L1614.3 1134.1 L1616.5 1133.0 L1618.8 1131.9 L1621.0 1130.8 L1623.2 1129.7 L1625.5 1128.5 L1627.7 1127.3 L1629.8 1126.1 L1632.0 1124.9 L1634.2 1123.6 L1636.3 1122.3 L1638.4 1121.0 L1640.5 1119.7 L1642.6 1118.3 L1644.7 1116.9 L1646.7 1115.4 L1648.7 1113.9 L1650.7 1112.4 L1652.6 1110.9 L1654.5 1109.3 L1656.4 1107.6 L1658.3 1106.0 L1660.1 1104.2 L1661.8 1102.5 L1663.6 1100.7 L1665.3 1098.9 L1666.9 1097.0 L1668.5 1095.1 L1670.1 1093.1 L1671.6 1091.1 L1673.1 1089.0 L1674.6 1086.9 L1676.0 1084.8 L1677.5 1082.7 L1678.8 1080.6 L1680.2 1078.4 L1681.5 1076.3 L1682.9 1074.1 L1684.2 1072.0 L1685.5 1069.8 L1686.7 1067.6 L1688.0 1065.4 L1689.2 1063.2 L1690.4 1061.0 L1691.6 1058.8 L1692.8 1056.6 L1694.0 1054.3 L1695.1 1052.1 L1696.3 1049.9 L1697.4 1047.6 L1698.5 1045.4 L1699.6 1043.1 L1700.6 1040.9 L1701.7 1038.6 L1702.7 1036.3 L1703.7 1034.0 L1704.7 1031.8 L1705.7 1029.5 L1706.7 1027.2 L1707.7 1024.9 L1708.6 1022.6 L1709.6 1020.2 L1710.5 1017.9 L1711.4 1015.6 L1712.3 1013.3 L1713.2 1011.0 L1714.1 1008.6 L1714.9 1006.3 L1715.8 1003.9 L1716.6 1001.6 L1717.4 999.2 L1718.2 996.9 L1719.1 994.5 L1719.8 992.2 L1720.6 989.8 L1721.4 987.4 L1722.2 985.0 L1722.9 982.7 L1723.6 980.3 L1724.4 977.9 L1725.1 975.5 L1725.8 973.1 L1726.5 970.7 L1727.2 968.3 L1727.9 965.9 L1728.6 963.5 L1729.2 961.1 L1729.9 958.7 L1730.6 956.3 L1731.2 953.8 L1731.8 951.4 L1732.5 949.0 L1733.1 946.6 L1733.7 944.2 L1734.3 941.7 L1734.9 939.3 L1735.5 936.9 L1736.1 934.4 L1736.7 932.0 L1737.3 929.6 L1737.9 927.1 L1738.4 924.7 L1739.0 922.2 L1739.6 919.8 L1740.1 917.4 L1740.7 914.9 L1741.2 912.5 L1741.8 910.0 L1742.3 907.6 L1742.9 905.1 L1743.4 902.7 L1744.0 900.2 L1744.5 897.8 L1745.0 895.3 L1745.6 892.9 L1746.1 890.4 L1746.6 888.0 L1747.1 885.5 L1747.6 883.1 L1748.2 880.6 L1748.7 878.2 L1749.2 875.7 L1749.7 873.3 L1750.2 870.8 L1750.7 868.3 L1751.2 865.9 L1751.7 863.4 L1752.2 861.0 L1752.7 858.5 L1753.2 856.1 L1753.7 853.6 L1754.2 851.2 L1754.6 848.7 L1755.1 846.2 L1755.6 843.8 L1756.1 841.3 L1756.5 838.9 L1757.0 836.4 L1757.5 833.9 L1758.0 831.5 L1758.4 829.0 L1758.9 826.5 L1759.3 824.1 L1759.8 821.6 L1760.3 819.2 L1760.7 816.7 L1761.2 814.2 L1761.6 811.8 L1762.0 809.3 L1762.5 806.8 L1762.9 804.4 L1763.4 801.9 L1763.8 799.4 L1764.2 797.0 L1764.7 794.5 L1765.1 792.0 L1765.5 789.6 L1766.0 787.1 L1766.4 784.6 L1766.8 782.2 L1767.2 779.7 L1767.6 777.2 L1768.0 774.8 L1768.5 772.3 L1768.9 769.8 L1769.3 767.4 L1769.7 764.9 L1770.1 762.4 L1770.5 760.0 L1770.9 757.5 L1771.3 755.0 L1771.7 752.5 L1772.1 750.1 L1772.4 747.6 L1772.8 745.1 L1773.2 742.7 L1773.6 740.2 L1774.0 737.7 L1774.4 735.2 L1774.7 732.8 L1775.1 730.3 L1775.5 727.8 L1775.9 725.3 L1776.2 722.9 L1776.6 720.4 L1777.0 717.9 L1777.3 715.4 L1777.7 713.0 L1778.1 710.5 L1778.4 708.0 L1778.8 705.5 L1779.1 703.1 L1779.5 700.6 L1779.8 698.1 L1780.2 695.6 L1780.5 693.2 L1780.9 690.7 L1781.2 688.2 L1781.6 685.7 L1781.9 683.2 L1782.3 680.8 L1782.6 678.3 L1783.0 675.8 L1783.3 673.3 L1783.6 670.9 L1784.0 668.4 L1784.3 665.9 L1784.7 663.4 L1785.0 660.9 L1785.3 658.5 L1785.7 656.0 L1786.0 653.5 L1786.3 651.0 L1786.7 648.5 L1787.0 646.1 L1787.3 643.6 L1787.7 641.1 L1788.0 638.6 L1788.3 636.1 L1788.7 633.7 L1789.0 631.2 L1789.3 628.7 L1789.6 626.2 L1790.0 623.7 L1790.3 621.3 L1790.6 618.8 L1790.9 616.3 L1791.3 613.8 L1791.6 611.3 L1791.9 608.9 L1792.2 606.4 L1792.6 603.9 L1792.9 601.4 L1793.2 598.9 L1793.5 596.5 L1793.9 594.0 L1794.2 591.5 L1794.5 589.0 L1794.8 586.5 L1795.2 584.1 L1795.5 581.6 L1795.8 579.1 L1796.2 576.6 L1796.5 574.1 L1796.8 571.6 L1797.1 569.2 L1797.5 566.7 L1797.8 564.2 L1798.1 561.7 L1798.4 559.2 L1798.8 556.8 L1799.1 554.3 L1799.4 551.8 L1799.8 549.3 L1800.1 546.8 L1800.4 544.3 L1800.8 541.9 L1801.1 539.4 L1801.4 536.9 L1801.8 534.4 L1802.1 531.9 L1802.4 529.5 L1802.8 527.0 L1803.1 524.5 L1803.5 522.0 L1803.8 519.5 L1804.1 517.1 L1804.5 514.6 L1804.8 512.1 L1805.2 509.6 L1805.5 507.1 L1805.9 504.6 L1806.2 502.2 L1806.6 499.7 L1806.9 497.2 L1807.3 494.7 L1807.6 492.2 L1808.0 489.8 L1808.4 487.3 L1808.7 484.8 L1809.1 482.3 L1809.4 479.8 L1809.8 477.4 L1810.2 474.9 L1810.5 472.4 L1810.9 469.9 L1811.3 467.4 L1811.6 465.0 L1812.0 462.5 L1812.4 460.0 L1812.8 457.5 L1813.2 455.1 L1813.5 452.6 L1813.9 450.1 L1814.3 447.6 L1814.7 445.1 L1815.1 442.7 L1815.5 440.2 L1815.9 437.7 L1816.3 435.2 L1816.7 432.8 L1817.1 430.3 L1817.5 427.8 L1817.9 425.3 L1818.4 422.9 L1818.8 420.4 L1819.2 417.9 L1819.7 415.5 L1820.1 413.0 L1820.6 410.5 L1821.1 408.1 L1821.6 405.6 L1822.1 403.2 L1822.6 400.7 L1823.1 398.3 L1823.7 395.8 L1824.2 393.4 L1824.8 390.9 L1825.4 388.5 L1826.0 386.1 L1826.6 383.6 L1827.3 381.2 L1827.9 378.8 L1828.6 376.4 L1829.3 374.0 L1830.0 371.6 L1830.7 369.2 L1831.5 366.8 L1832.3 364.4 L1833.1 362.0 L1833.9 359.6 L1834.8 357.3 L1835.6 354.9 L1836.5 352.6 L1837.5 350.2 L1838.4 347.9 L1839.4 345.5 L1840.4 343.2 L1841.4 340.9 L1842.5 338.6 L1843.7 336.6 L1844.9 335.0 L1846.2 334.0 L1847.7 333.9 L1849.3 334.5 L1850.9 335.8 L1852.5 337.5 L1853.8 339.5 L1854.9 341.6 L1855.9 343.8 L1856.7 346.2 L1857.3 348.6 L1857.9 351.1 L1858.4 353.6 L1858.9 356.2 L1859.3 358.8 L1859.7 361.3 L1860.2 363.9 L1860.6 366.4 L1861.0 369.0 L1861.4 371.5 L1861.8 374.1 L1862.2 376.6 L1862.6 379.1 L1863.0 381.7 L1863.4 384.2 L1863.8 386.7 L1864.2 389.3 L1864.6 391.8 L1864.9 394.3 L1865.3 396.8 L1865.6 399.4 L1866.0 401.9 L1866.3 404.4 L1866.7 406.9 L1867.0 409.4 L1867.4 411.9 L1867.7 414.4 L1868.0 416.9 L1868.3 419.4 L1868.7 421.9 L1869.0 424.4 L1869.3 426.9 L1869.6 429.4 L1869.9 431.9 L1870.2 434.4 L1870.5 436.9 L1870.8 439.4 L1871.1 441.9 L1871.4 444.4 L1871.6 446.9 L1871.9 449.4 L1872.2 451.8 L1872.5 454.3 L1872.7 456.8 L1873.0 459.3 L1873.3 461.8 L1873.5 464.3 L1873.8 466.8 L1874.0 469.2 L1874.3 471.7 L1874.5 474.2 L1874.8 476.7 L1875.0 479.2 L1875.2 481.6 L1875.5 484.1 L1875.7 486.6 L1875.9 489.1 L1876.2 491.6 L1876.4 494.0 L1876.6 496.5 L1876.8 499.0 L1877.1 501.5 L1877.3 504.0 L1877.5 506.4 L1877.7 508.9 L1877.9 511.4 L1878.1 513.9 L1878.3 516.4 L1878.6 518.9 L1878.8 521.4 L1879.0 523.8 L1879.2 526.3 L1879.4 528.8 L1879.6 531.3 L1879.8 533.8 L1880.0 536.3 L1880.1 538.8 L1880.3 541.2 L1880.5 543.7 L1880.7 546.2 L1880.9 548.7 L1881.1 551.2 L1881.3 553.7 L1881.5 556.2 L1881.6 558.7 L1881.8 561.2 L1882.0 563.6 L1882.2 566.1 L1882.4 568.6 L1882.5 571.1 L1882.7 573.6 L1882.9 576.1 L1883.1 578.6 L1883.2 581.1 L1883.4 583.6 L1883.6 586.1 L1883.7 588.6 L1883.9 591.1 L1884.1 593.6 L1884.2 596.1 L1884.4 598.6 L1884.6 601.0 L1884.7 603.5 L1884.9 606.0 L1885.1 608.5 L1885.2 611.0 L1885.4 613.5 L1885.5 616.0 L1885.7 618.5 L1885.8 621.0 L1886.0 623.5 L1886.2 626.0 L1886.3 628.5 L1886.5 631.0 L1886.6 633.5 L1886.8 636.0 L1886.9 638.5 L1887.1 641.0 L1887.2 643.5 L1887.4 646.0 L1887.5 648.5 L1887.7 651.0 L1887.9 653.5 L1888.0 656.0 L1888.2 658.5 L1888.3 661.0 L1888.5 663.5 L1888.6 666.0 L1888.8 668.5 L1888.9 671.0 L1889.1 673.5 L1889.2 676.0 L1889.4 678.5 L1889.5 681.0 L1889.7 683.5 L1889.8 686.0 L1890.0 688.5 L1890.1 691.0 L1890.3 693.5 L1890.4 696.0 L1890.6 698.5 L1890.7 701.0 L1890.9 703.5 L1891.0 706.0 L1891.2 708.5 L1891.3 711.0 L1891.5 713.5 L1891.6 716.0 L1891.8 718.5 L1892.0 721.0 L1892.1 723.5 L1892.3 726.0 L1892.4 728.5 L1892.6 731.0 L1892.7 733.5 L1892.9 736.0 L1893.1 738.5 L1893.2 741.0 L1893.4 743.5 L1893.5 746.0 L1893.7 748.5 L1893.9 751.0 L1894.0 753.5 L1894.2 756.0 L1894.4 758.5 L1894.5 761.0 L1894.7 763.5 L1894.9 766.0 L1895.0 768.5 L1895.2 771.0 L1895.4 773.5 L1895.5 776.0 L1895.7 778.5 L1895.9 781.0 L1896.1 783.5 L1896.3 786.0 L1896.4 788.5 L1896.6 791.0 L1896.8 793.5 L1897.0 796.0 L1897.2 798.5 L1897.3 801.0 L1897.5 803.5 L1897.7 806.0 L1897.9 808.5 L1898.1 811.0 L1898.3 813.5 L1898.5 816.0 L1898.7 818.5 L1898.9 821.0 L1899.1 823.5 L1899.3 826.0 L1899.5 828.5 L1899.7 831.0 L1899.9 833.5 L1900.1 836.0 L1900.3 838.5 L1900.5 841.0 L1900.7 843.5 L1900.9 845.9 L1901.2 848.4 L1901.4 850.9 L1901.6 853.4 L1901.8 855.9 L1902.0 858.4 L1902.3 860.9 L1902.5 863.4 L1902.7 865.9 L1902.9 868.4 L1903.2 870.9 L1903.4 873.4 L1903.6 875.9 L1903.9 878.4 L1904.1 880.8 L1904.4 883.3 L1904.6 885.8 L1904.8 888.3 L1905.1 890.8 L1905.3 893.3 L1905.6 895.8 L1905.8 898.3 L1906.1 900.8 L1906.3 903.3 L1906.6 905.7 L1906.8 908.2 L1907.1 910.7 L1907.3 913.2 L1907.6 915.7 L1907.8 918.2 L1908.1 920.7 L1908.3 923.2 L1908.6 925.7 L1908.9 928.1 L1909.1 930.6 L1909.4 933.1 L1909.6 935.6 L1909.9 938.1 L1910.2 940.6 L1910.4 943.1 L1910.7 945.6 L1911.0 948.0 L1911.2 950.5 L1911.5 953.0 L1911.8 955.5 L1912.0 958.0 L1912.3 960.5 L1912.6 963.0 L1912.8 965.5 L1913.1 967.9 L1913.4 970.4 L1913.6 972.9 L1913.9 975.4 L1914.2 977.9 L1914.5 980.4 L1914.7 982.9 L1915.0 985.3 L1915.3 987.8 L1915.5 990.3 L1915.8 992.8 L1916.1 995.3 L1916.4 997.8 L1916.6 1000.2 L1916.9 1002.7 L1917.2 1005.2 L1917.4 1007.7 L1917.7 1010.2 L1918.0 1012.7 L1918.3 1015.2 L1918.5 1017.6 L1918.8 1020.1 L1919.1 1022.6 L1919.3 1025.1 L1919.6 1027.6 L1919.9 1030.1 L1920.1 1032.6 L1920.4 1035.0 L1920.7 1037.5 L1921.0 1040.0 L1921.2 1042.5 L1921.5 1045.0 L1921.8 1047.5 L1922.1 1049.9 L1922.3 1052.4 L1922.6 1054.9 L1922.9 1057.4 L1923.2 1059.9 L1923.5 1062.4 L1923.8 1064.8 L1924.1 1067.3 L1924.4 1069.8 L1924.7 1072.3 L1925.0 1074.8 L1925.3 1077.2 L1925.7 1079.7 L1926.0 1082.2 L1926.3 1084.7 L1926.7 1087.1 L1927.1 1089.6 L1927.4 1092.1 L1927.8 1094.6 L1928.2 1097.0 L1928.6 1099.5 L1929.0 1102.0 L1929.4 1104.5 L1929.8 1106.9 L1930.2 1109.4 L1930.7 1111.9 L1931.1 1114.3 L1931.6 1116.8 L1932.1 1119.2 L1932.5 1121.7 L1933.0 1124.2 L1933.5 1126.6 L1934.1 1129.1 L1934.6 1131.5 L1935.2 1134.0 L1935.7 1136.4 L1936.3 1138.9 L1936.9 1141.3 L1937.5 1143.8 L1938.1 1146.2 L1938.8 1148.7 L1939.4 1151.1 L1940.1 1153.6 L1940.8 1156.0 L1941.5 1158.5 L1942.2 1160.9 L1943.0 1163.3 L1943.7 1165.8 L1944.5 1168.2 L1945.3 1170.6 L1946.1 1173.0 L1947.0 1175.5 L1947.8 1177.9 L1948.7 1180.3 L1949.6 1182.7 L1950.5 1185.1 L1951.5 1187.5 L1952.4 1189.9 L1953.4 1192.3 L1954.5 1194.6 L1955.5 1196.9 L1956.6 1199.2 L1957.7 1201.5 L1958.8 1203.8 L1960.0 1206.0 L1961.2 1208.2 L1962.4 1210.4 L1963.7 1212.5 L1965.0 1214.6 L1966.3 1216.7 L1967.7 1218.7 L1969.0 1220.7 L1970.5 1222.6 L1972.0 1224.5 L1973.5 1226.4 L1975.0 1228.2 L1976.6 1229.9 L1978.2 1231.6 L1979.9 1233.3 L1981.6 1234.8 L1983.4 1236.4 L1985.2 1237.8 L1987.0 1239.2 L1988.9 1240.6 L1990.9 1241.8 L1992.9 1243.0 L1994.9 1244.1 L1997.0 1245.2 L1999.1 1246.2 L2001.3 1247.1 L2003.5 1248.0 L2005.8 1248.8 L2008.0 1249.6 L2010.4 1250.3 L2012.7 1250.9 L2015.1 1251.5 L2017.5 1252.1 L2020.0 1252.6 L2022.4 1253.0 L2024.9 1253.5 L2027.4 1253.8 L2030.0 1254.2 L2032.5 1254.5 L2035.1 1254.8 L2037.7 1255.0 L2040.3 1255.3 L2042.9 1255.5 L2045.5 1255.6 L2048.2 1255.8 L2050.8 1255.9 L2053.5 1256.0 L2056.1 1256.1 L2058.8 1256.2 L2061.5 1256.3 L2064.1 1256.4 L2066.8 1256.5 L2069.4 1256.5 L2072.1 1256.6 L2074.7 1256.6 L2077.3 1256.7 L2079.9 1256.8 L2082.5 1256.8 L2085.1 1256.9 L2087.7 1257.0 L2090.3 1257.0 L2092.9 1257.1 L2095.5 1257.2 L2098.0 1257.2 L2100.6 1257.3 L2103.1 1257.4 L2105.7 1257.5 L2108.2 1257.5 L2110.8 1257.6 L2113.3 1257.7 L2115.8 1257.8 L2118.3 1257.8 L2120.8 1257.9 L2123.3 1258.0 L2125.9 1258.1 L2128.3 1258.1 L2130.8 1258.2 L2133.3 1258.3 L2135.8 1258.4 L2138.3 1258.4 L2140.8 1258.5 L2143.2 1258.6 L2145.7 1258.7 L2148.2 1258.7 L2150.6 1258.8 L2153.1 1258.9 L2155.6 1258.9 L2158.0 1259.0 L2160.5 1259.1 L2162.9 1259.2 L2165.4 1259.2 L2167.8 1259.3 L2170.3 1259.4 L2172.7 1259.4 L2175.2 1259.5 L2177.6 1259.6 L2180.0 1259.6 L2182.5 1259.7 L2184.9 1259.8 L2187.4 1259.8 L2189.8 1259.9 L2192.3 1260.0 L2194.7 1260.0 L2197.2 1260.1 L2199.6 1260.1 L2202.0 1260.2 L2204.5 1260.2 L2206.9 1260.3 L2209.4 1260.4 L2211.8 1260.4 L2214.3 1260.5 L2216.8 1260.5 L2219.2 1260.5 L2221.7 1260.6 L2224.1 1260.6 L2226.6 1260.7 L2229.1 1260.7 L2231.6 1260.7 L2234.0 1260.8 L2236.5 1260.8 L2239.0 1260.8 L2241.5 1260.9 L2244.0 1260.9 L2246.5 1260.9 L2249.0 1260.9 L2251.5 1261.0 L2254.0 1261.0 L2256.5 1261.0 L2259.0 1261.0 L2261.6 1261.0 L2264.1 1261.0 L2266.6 1261.0 L2269.2 1261.0 L2271.7 1261.0 L2274.3 1261.0 L2276.9 1261.0 L2279.4 1261.0 L2282.0 1261.0 L2284.6 1261.0 L2287.2 1261.0 L2289.8 1260.9 L2292.4 1260.9 L2295.0 1260.9 L2297.7 1260.9 L2300.3 1260.8 L2302.4 1260.9" stroke="#7e60a2" stroke-dasharray="44.15 16.55 5.52 16.55 5.52 16.56" stroke-dashoffset="24.5"/>
<path id="co" d="M322.4 1263.8 L324.9 1263.7 L327.4 1263.7 L329.9 1263.7 L332.4 1263.7 L334.9 1263.7 L337.4 1263.7 L339.9 1263.7 L342.4 1263.7 L344.9 1263.8 L347.4 1263.8 L349.9 1263.8 L352.4 1263.8 L355.0 1263.8 L357.5 1263.8 L360.0 1263.8 L362.5 1263.8 L365.0 1263.8 L367.5 1263.8 L370.0 1263.8 L372.5 1263.8 L375.0 1263.8 L377.5 1263.8 L380.0 1263.8 L382.5 1263.8 L385.0 1263.8 L387.5 1263.8 L390.0 1263.8 L392.5 1263.8 L395.0 1263.8 L397.5 1263.8 L400.0 1263.8 L402.5 1263.8 L405.0 1263.8 L407.5 1263.8 L410.1 1263.8 L412.6 1263.8 L415.1 1263.8 L417.6 1263.8 L420.1 1263.8 L422.6 1263.8 L425.1 1263.8 L427.6 1263.7 L430.1 1263.7 L432.6 1263.7 L435.1 1263.7 L437.6 1263.7 L440.1 1263.7 L442.6 1263.7 L445.1 1263.7 L447.6 1263.7 L450.1 1263.6 L452.6 1263.6 L455.1 1263.6 L457.6 1263.6 L460.1 1263.6 L462.6 1263.6 L465.1 1263.6 L467.6 1263.5 L470.1 1263.5 L472.6 1263.5 L475.1 1263.5 L477.6 1263.5 L480.2 1263.4 L482.7 1263.4 L485.2 1263.4 L487.7 1263.4 L490.2 1263.4 L492.7 1263.3 L495.2 1263.3 L497.7 1263.3 L500.2 1263.3 L502.7 1263.2 L505.2 1263.2 L507.7 1263.2 L510.2 1263.1 L512.7 1263.1 L515.2 1263.1 L517.7 1263.0 L520.2 1263.0 L522.7 1263.0 L525.2 1262.9 L527.7 1262.9 L530.2 1262.9 L532.7 1262.8 L535.2 1262.8 L537.7 1262.8 L540.2 1262.7 L542.7 1262.7 L545.2 1262.7 L547.7 1262.6 L550.2 1262.6 L552.7 1262.5 L555.2 1262.5 L557.7 1262.4 L560.2 1262.4 L562.7 1262.4 L565.2 1262.3 L567.7 1262.3 L570.2 1262.2 L572.7 1262.2 L575.2 1262.1 L577.7 1262.1 L580.2 1262.0 L582.7 1262.0 L585.2 1261.9 L587.7 1261.8 L590.2 1261.8 L592.7 1261.7 L595.3 1261.7 L597.8 1261.6 L600.3 1261.6 L602.8 1261.5 L605.3 1261.4 L607.8 1261.4 L610.3 1261.3 L612.8 1261.3 L615.3 1261.2 L617.8 1261.1 L620.3 1261.1 L622.8 1261.0 L625.3 1260.9 L627.8 1260.9 L630.3 1260.8 L632.8 1260.7 L635.3 1260.6 L637.8 1260.6 L640.3 1260.5 L642.8 1260.4 L645.3 1260.3 L647.8 1260.3 L650.3 1260.2 L652.8 1260.1 L655.3 1260.0 L657.8 1259.9 L660.3 1259.9 L662.8 1259.8 L665.3 1259.7 L667.8 1259.6 L670.3 1259.5 L672.8 1259.4 L675.3 1259.3 L677.8 1259.2 L680.3 1259.1 L682.8 1259.1 L685.3 1259.0 L687.8 1258.9 L690.3 1258.8 L692.8 1258.7 L695.3 1258.6 L697.8 1258.5 L700.3 1258.4 L702.8 1258.3 L705.3 1258.2 L707.8 1258.1 L710.3 1258.0 L712.8 1257.8 L715.3 1257.7 L717.8 1257.6 L720.3 1257.5 L722.8 1257.4 L725.3 1257.3 L727.8 1257.2 L730.3 1257.1 L732.8 1257.0 L735.3 1256.8 L737.8 1256.7 L740.3 1256.6 L742.8 1256.5 L745.3 1256.3 L747.8 1256.2 L750.3 1256.1 L752.8 1256.0 L755.3 1255.8 L757.8 1255.7 L760.3 1255.6 L762.8 1255.5 L765.3 1255.3 L767.8 1255.2 L770.3 1255.0 L772.8 1254.9 L775.3 1254.8 L777.8 1254.6 L780.3 1254.5 L782.8 1254.4 L785.3 1254.2 L787.8 1254.1 L790.3 1253.9 L792.8 1253.8 L795.3 1253.6 L797.8 1253.5 L800.2 1253.3 L802.7 1253.2 L805.2 1253.0 L807.7 1252.8 L810.2 1252.7 L812.7 1252.5 L815.2 1252.4 L817.7 1252.2 L820.2 1252.0 L822.7 1251.9 L825.2 1251.7 L827.7 1251.5 L830.2 1251.4 L832.7 1251.2 L835.2 1251.0 L837.7 1250.9 L840.2 1250.7 L842.7 1250.5 L845.2 1250.3 L847.7 1250.2 L850.2 1250.0 L852.7 1249.8 L855.2 1249.6 L857.7 1249.4 L860.2 1249.2 L862.7 1249.0 L865.2 1248.9 L867.7 1248.7 L870.2 1248.5 L872.7 1248.3 L875.2 1248.1 L877.7 1247.9 L880.2 1247.7 L882.7 1247.5 L885.2 1247.3 L887.7 1247.1 L890.2 1246.9 L892.7 1246.7 L895.2 1246.4 L897.7 1246.2 L900.2 1246.0 L902.7 1245.8 L905.2 1245.6 L907.7 1245.4 L910.2 1245.2 L912.7 1244.9 L915.2 1244.7 L917.7 1244.5 L920.2 1244.3 L922.7 1244.0 L925.2 1243.8 L927.7 1243.6 L930.1 1243.3 L932.6 1243.1 L935.1 1242.9 L937.6 1242.6 L940.1 1242.3 L942.6 1242.1 L945.1 1241.8 L947.6 1241.5 L950.1 1241.2 L952.6 1240.9 L955.0 1240.6 L957.5 1240.3 L960.0 1239.9 L962.5 1239.5 L964.9 1239.2 L967.4 1238.8 L969.9 1238.4 L972.3 1238.0 L974.8 1237.5 L977.2 1237.1 L979.7 1236.6 L982.1 1236.1 L984.5 1235.6 L987.0 1235.0 L989.4 1234.4 L991.8 1233.9 L994.2 1233.2 L996.7 1232.6 L999.1 1231.9 L1001.5 1231.2 L1003.9 1230.5 L1006.2 1229.8 L1008.6 1229.0 L1011.0 1228.2 L1013.4 1227.4 L1015.7 1226.5 L1018.1 1225.6 L1020.4 1224.7 L1022.7 1223.7 L1025.0 1222.8 L1027.4 1221.8 L1029.7 1220.7 L1031.9 1219.7 L1034.2 1218.6 L1036.5 1217.5 L1038.7 1216.3 L1041.0 1215.2 L1043.2 1214.0 L1045.4 1212.8 L1047.6 1211.6 L1049.8 1210.3 L1051.9 1209.1 L1054.1 1207.8 L1056.2 1206.4 L1058.3 1205.1 L1060.4 1203.7 L1062.5 1202.4 L1064.5 1201.0 L1066.6 1199.5 L1068.6 1198.1 L1070.6 1196.6 L1072.5 1195.1 L1074.5 1193.6 L1076.5 1192.1 L1078.4 1190.6 L1080.3 1189.1 L1082.2 1187.5 L1084.2 1186.0 L1086.1 1184.4 L1088.0 1182.8 L1089.9 1181.2 L1091.8 1179.6 L1093.7 1178.1 L1095.6 1176.5 L1097.5 1174.9 L1099.4 1173.3 L1101.3 1171.7 L1103.2 1170.1 L1105.1 1168.5 L1107.1 1166.9 L1109.0 1165.3 L1111.0 1163.8 L1113.0 1162.2 L1115.0 1160.6 L1117.0 1159.1 L1119.0 1157.6 L1121.1 1156.0 L1123.2 1154.5 L1125.3 1153.0 L1127.4 1151.6 L1129.5 1150.1 L1131.7 1148.7 L1133.8 1147.3 L1136.0 1146.0 L1138.2 1144.7 L1140.4 1143.4 L1142.7 1142.2 L1144.9 1141.0 L1147.2 1139.8 L1149.4 1138.7 L1151.7 1137.7 L1154.0 1136.7 L1156.4 1135.7 L1158.7 1134.8 L1161.0 1134.0 L1163.4 1133.2 L1165.7 1132.5 L1168.1 1131.9 L1170.5 1131.3 L1172.9 1130.9 L1175.3 1130.4 L1177.7 1130.1 L1180.1 1129.9 L1182.5 1129.7 L1185.0 1129.6 L1187.4 1129.5 L1189.9 1129.5 L1192.3 1129.6 L1194.8 1129.7 L1197.2 1129.9 L1199.7 1130.1 L1202.2 1130.4 L1204.7 1130.7 L1207.2 1131.0 L1209.6 1131.4 L1212.1 1131.8 L1214.6 1132.2 L1217.1 1132.6 L1219.6 1133.0 L1222.1 1133.5 L1224.6 1133.9 L1227.1 1134.4 L1229.6 1134.8 L1232.1 1135.3 L1234.6 1135.7 L1237.1 1136.1 L1239.6 1136.5 L1242.1 1136.9 L1244.6 1137.3 L1247.1 1137.7 L1249.6 1138.1 L1252.1 1138.4 L1254.6 1138.7 L1257.1 1139.0 L1259.6 1139.3 L1262.1 1139.6 L1264.5 1139.9 L1267.0 1140.1 L1269.5 1140.3 L1272.0 1140.5 L1274.5 1140.7 L1277.0 1140.9 L1279.4 1141.0 L1281.9 1141.1 L1284.4 1141.2 L1286.9 1141.2 L1289.4 1141.2 L1291.8 1141.2 L1294.3 1141.2 L1296.8 1141.1 L1299.2 1141.0 L1301.7 1140.9 L1304.2 1140.8 L1306.6 1140.6 L1309.1 1140.4 L1311.5 1140.2 L1314.0 1139.9 L1316.5 1139.7 L1318.9 1139.4 L1321.4 1139.1 L1323.8 1138.8 L1326.3 1138.6 L1328.8 1138.2 L1331.3 1137.9 L1333.7 1137.6 L1336.2 1137.3 L1338.7 1137.0 L1341.2 1136.7 L1343.7 1136.4 L1346.1 1136.1 L1348.6 1135.8 L1351.1 1135.6 L1353.7 1135.3 L1356.2 1135.1 L1358.7 1134.8 L1361.2 1134.6 L1363.7 1134.5 L1366.3 1134.3 L1368.8 1134.1 L1371.4 1134.0 L1373.9 1133.9 L1376.5 1133.8 L1379.0 1133.7 L1381.6 1133.6 L1384.2 1133.5 L1386.7 1133.4 L1389.3 1133.3 L1391.8 1133.2 L1394.4 1133.0 L1396.9 1132.9 L1399.4 1132.7 L1401.9 1132.5 L1404.5 1132.3 L1407.0 1132.1 L1409.5 1131.8 L1412.0 1131.6 L1414.4 1131.2 L1416.9 1130.9 L1419.4 1130.5 L1421.8 1130.0 L1424.2 1129.5 L1426.6 1129.0 L1429.0 1128.4 L1431.4 1127.8 L1433.7 1127.1 L1436.1 1126.3 L1438.4 1125.6 L1440.7 1124.7 L1443.0 1123.8 L1445.2 1122.9 L1447.5 1122.0 L1449.8 1121.0 L1452.0 1119.9 L1454.2 1118.8 L1456.4 1117.7 L1458.6 1116.6 L1460.8 1115.4 L1463.0 1114.2 L1465.1 1113.0 L1467.3 1111.7 L1469.4 1110.4 L1471.6 1109.1 L1473.7 1107.8 L1475.8 1106.4 L1478.0 1105.0 L1480.1 1103.6 L1482.2 1102.2 L1484.3 1100.8 L1486.4 1099.4 L1488.5 1097.9 L1490.5 1096.5 L1492.6 1095.0 L1494.7 1093.5 L1496.8 1092.0 L1498.9 1090.6 L1500.9 1089.1 L1503.0 1087.6 L1505.1 1086.1 L1507.2 1084.6 L1509.2 1083.2 L1511.3 1081.7 L1513.4 1080.2 L1515.5 1078.8 L1517.6 1077.3 L1519.7 1075.9 L1521.7 1074.5 L1523.8 1073.1 L1525.9 1071.7 L1528.1 1070.3 L1530.2 1069.0 L1532.3 1067.6 L1534.4 1066.3 L1536.5 1065.1 L1538.7 1063.8 L1540.8 1062.6 L1543.0 1061.4 L1545.2 1060.2 L1547.3 1059.1 L1549.5 1058.0 L1551.7 1056.9 L1553.9 1055.8 L1556.2 1054.8 L1558.4 1053.8 L1560.6 1052.9 L1562.9 1051.9 L1565.2 1051.0 L1567.4 1050.1 L1569.7 1049.3 L1572.0 1048.4 L1574.3 1047.6 L1576.7 1046.9 L1579.0 1046.1 L1581.3 1045.4 L1583.7 1044.7 L1586.1 1044.0 L1588.5 1043.3 L1590.9 1042.7 L1593.3 1042.1 L1595.7 1041.5 L1598.2 1041.0 L1600.6 1040.4 L1603.1 1039.9 L1605.6 1039.4 L1608.1 1038.9 L1610.6 1038.5 L1613.1 1038.0 L1615.7 1037.6 L1618.2 1037.1 L1620.7 1036.7 L1623.3 1036.3 L1625.8 1035.8 L1628.3 1035.4 L1630.8 1034.9 L1633.4 1034.4 L1635.9 1033.9 L1638.3 1033.4 L1640.8 1032.8 L1643.3 1032.3 L1645.7 1031.6 L1648.1 1031.0 L1650.5 1030.3 L1652.8 1029.5 L1655.2 1028.8 L1657.5 1027.9 L1659.7 1027.0 L1662.0 1026.1 L1664.2 1025.1 L1666.3 1024.0 L1668.4 1022.9 L1670.5 1021.7 L1672.5 1020.4 L1674.5 1019.1 L1676.5 1017.7 L1678.4 1016.2 L1680.2 1014.7 L1682.1 1013.1 L1683.9 1011.5 L1685.6 1009.8 L1687.4 1008.1 L1689.1 1006.3 L1690.7 1004.5 L1692.4 1002.7 L1694.0 1000.8 L1695.5 998.8 L1697.1 996.8 L1698.6 994.8 L1700.1 992.8 L1701.5 990.7 L1702.9 988.6 L1704.3 986.4 L1705.7 984.2 L1707.0 982.0 L1708.4 979.8 L1709.7 977.6 L1710.9 975.3 L1712.2 973.0 L1713.4 970.8 L1714.6 968.4 L1715.8 966.1 L1717.0 963.8 L1718.2 961.5 L1719.3 959.1 L1720.4 956.8 L1721.5 954.4 L1722.6 952.1 L1723.7 949.7 L1724.8 947.4 L1725.8 945.1 L1726.8 942.7 L1727.9 940.4 L1728.9 938.1 L1729.9 935.8 L1730.9 933.5 L1731.9 931.3 L1732.8 929.0 L1733.8 926.8 L1734.8 924.6 L1735.7 922.3 L1736.7 920.1 L1737.6 917.9 L1738.6 915.7 L1739.5 913.5 L1740.4 911.2 L1741.4 909.0 L1742.3 906.8 L1743.2 904.5 L1744.2 902.3 L1745.1 900.0 L1746.0 897.7 L1747.0 895.4 L1747.9 893.1 L1748.8 890.7 L1749.7 888.3 L1750.7 886.0 L1751.6 883.6 L1752.5 881.2 L1753.4 878.8 L1754.3 876.4 L1755.2 874.0 L1756.0 871.6 L1756.9 869.2 L1757.7 866.8 L1758.5 864.4 L1759.3 862.0 L1760.1 859.6 L1760.9 857.3 L1761.6 854.9 L1762.4 852.6 L1763.2 850.3 L1764.1 847.9 L1764.9 845.6 L1765.9 843.3 L1766.9 841.0 L1767.9 838.7 L1769.1 836.5 L1770.3 834.2 L1771.7 831.9 L1773.1 829.6 L1774.6 827.4 L1776.3 825.3 L1778.0 823.2 L1779.7 821.2 L1781.6 819.4 L1783.4 817.8 L1785.4 816.3 L1787.3 815.1 L1789.3 814.1 L1791.4 813.3 L1793.4 812.9 L1795.4 812.7 L1797.5 812.9 L1799.5 813.4 L1801.5 814.2 L1803.5 815.3 L1805.4 816.6 L1807.3 818.1 L1809.1 819.8 L1810.9 821.6 L1812.6 823.6 L1814.3 825.8 L1815.8 828.0 L1817.2 830.3 L1818.6 832.6 L1819.8 834.9 L1820.9 837.3 L1821.9 839.7 L1822.9 842.1 L1823.7 844.5 L1824.5 846.9 L1825.2 849.3 L1825.9 851.7 L1826.5 854.2 L1827.1 856.6 L1827.6 859.1 L1828.1 861.5 L1828.7 864.0 L1829.2 866.4 L1829.7 868.8 L1830.2 871.3 L1830.7 873.7 L1831.2 876.2 L1831.7 878.6 L1832.2 881.0 L1832.7 883.5 L1833.2 885.9 L1833.7 888.3 L1834.2 890.8 L1834.7 893.2 L1835.2 895.6 L1835.7 898.0 L1836.2 900.5 L1836.7 902.9 L1837.2 905.3 L1837.7 907.8 L1838.2 910.2 L1838.7 912.6 L1839.2 915.1 L1839.7 917.5 L1840.1 920.0 L1840.6 922.4 L1841.1 924.9 L1841.6 927.3 L1842.1 929.7 L1842.6 932.2 L1843.0 934.7 L1843.5 937.1 L1844.0 939.6 L1844.4 942.0 L1844.9 944.5 L1845.4 947.0 L1845.9 949.4 L1846.3 951.9 L1846.8 954.4 L1847.2 956.9 L1847.7 959.3 L1848.2 961.8 L1848.6 964.3 L1849.1 966.8 L1849.5 969.3 L1850.0 971.7 L1850.4 974.2 L1850.9 976.7 L1851.3 979.2 L1851.7 981.7 L1852.2 984.2 L1852.6 986.7 L1853.1 989.1 L1853.5 991.6 L1853.9 994.1 L1854.4 996.6 L1854.8 999.1 L1855.2 1001.6 L1855.6 1004.1 L1856.1 1006.6 L1856.5 1009.0 L1856.9 1011.5 L1857.3 1014.0 L1857.7 1016.5 L1858.2 1019.0 L1858.6 1021.5 L1859.0 1023.9 L1859.4 1026.4 L1859.8 1028.9 L1860.2 1031.4 L1860.6 1033.8 L1861.0 1036.3 L1861.4 1038.8 L1861.8 1041.2 L1862.2 1043.7 L1862.6 1046.2 L1863.0 1048.6 L1863.4 1051.1 L1863.8 1053.5 L1864.2 1056.0 L1864.6 1058.4 L1864.9 1060.9 L1865.3 1063.3 L1865.7 1065.8 L1866.1 1068.2 L1866.5 1070.6 L1866.9 1073.1 L1867.3 1075.5 L1867.7 1077.9 L1868.1 1080.4 L1868.5 1082.8 L1868.9 1085.2 L1869.3 1087.7 L1869.7 1090.1 L1870.1 1092.5 L1870.5 1095.0 L1870.9 1097.4 L1871.3 1099.8 L1871.8 1102.2 L1872.2 1104.7 L1872.6 1107.1 L1873.1 1109.5 L1873.5 1111.9 L1874.0 1114.4 L1874.5 1116.8 L1875.0 1119.2 L1875.4 1121.7 L1875.9 1124.1 L1876.4 1126.5 L1876.9 1129.0 L1877.5 1131.4 L1878.0 1133.8 L1878.5 1136.3 L1879.1 1138.7 L1879.7 1141.2 L1880.2 1143.6 L1880.8 1146.1 L1881.4 1148.5 L1882.0 1151.0 L1882.7 1153.4 L1883.3 1155.9 L1883.9 1158.3 L1884.6 1160.8 L1885.3 1163.3 L1886.0 1165.7 L1886.7 1168.2 L1887.4 1170.7 L1888.2 1173.2 L1888.9 1175.7 L1889.7 1178.1 L1890.5 1180.6 L1891.3 1183.1 L1892.1 1185.6 L1892.9 1188.1 L1893.8 1190.6 L1894.7 1193.1 L1895.6 1195.6 L1896.6 1198.0 L1897.5 1200.4 L1898.5 1202.8 L1899.6 1205.2 L1900.6 1207.6 L1901.8 1209.9 L1902.9 1212.2 L1904.1 1214.4 L1905.3 1216.6 L1906.5 1218.8 L1907.9 1220.9 L1909.2 1223.0 L1910.6 1225.0 L1912.0 1226.9 L1913.5 1228.8 L1915.1 1230.6 L1916.7 1232.4 L1918.3 1234.1 L1920.0 1235.7 L1921.8 1237.2 L1923.6 1238.7 L1925.5 1240.1 L1927.4 1241.4 L1929.4 1242.6 L1931.5 1243.7 L1933.5 1244.8 L1935.7 1245.9 L1937.8 1246.8 L1940.1 1247.8 L1942.3 1248.6 L1944.6 1249.4 L1946.9 1250.2 L1949.3 1250.9 L1951.7 1251.5 L1954.1 1252.1 L1956.5 1252.7 L1959.0 1253.2 L1961.5 1253.7 L1964.0 1254.2 L1966.5 1254.6 L1969.0 1255.0 L1971.5 1255.4 L1974.1 1255.8 L1976.6 1256.1 L1979.2 1256.5 L1981.8 1256.8 L1984.3 1257.1 L1986.9 1257.4 L1989.4 1257.7 L1992.0 1257.9 L1994.5 1258.2 L1997.1 1258.5 L1999.6 1258.7 L2002.1 1259.0 L2004.7 1259.2 L2007.2 1259.4 L2009.8 1259.7 L2012.3 1259.9 L2014.8 1260.1 L2017.4 1260.3 L2019.9 1260.5 L2022.4 1260.6 L2024.9 1260.8 L2027.4 1261.0 L2030.0 1261.1 L2032.5 1261.3 L2035.0 1261.4 L2037.5 1261.6 L2040.0 1261.7 L2042.5 1261.8 L2045.1 1262.0 L2047.6 1262.1 L2050.1 1262.2 L2052.6 1262.3 L2055.1 1262.4 L2057.6 1262.5 L2060.1 1262.6 L2062.6 1262.7 L2065.1 1262.7 L2067.6 1262.8 L2070.1 1262.9 L2072.6 1262.9 L2075.1 1263.0 L2077.6 1263.0 L2080.1 1263.1 L2082.6 1263.1 L2085.0 1263.2 L2087.5 1263.2 L2090.0 1263.2 L2092.5 1263.3 L2095.0 1263.3 L2097.5 1263.3 L2100.0 1263.3 L2102.5 1263.3 L2104.9 1263.4 L2107.4 1263.4 L2109.9 1263.4 L2112.4 1263.4 L2114.9 1263.4 L2117.4 1263.4 L2119.8 1263.4 L2122.3 1263.3 L2124.8 1263.3 L2127.3 1263.3 L2129.8 1263.3 L2132.3 1263.3 L2134.7 1263.3 L2137.2 1263.2 L2139.7 1263.2 L2142.2 1263.2 L2144.7 1263.2 L2147.1 1263.1 L2149.6 1263.1 L2152.1 1263.1 L2154.6 1263.1 L2157.1 1263.0 L2159.5 1263.0 L2162.0 1263.0 L2164.5 1262.9 L2167.0 1262.9 L2169.5 1262.9 L2171.9 1262.8 L2174.4 1262.8 L2176.9 1262.8 L2179.4 1262.7 L2181.9 1262.7 L2184.4 1262.7 L2186.9 1262.6 L2189.3 1262.6 L2191.8 1262.6 L2194.3 1262.5 L2196.8 1262.5 L2199.3 1262.5 L2201.8 1262.5 L2204.3 1262.4 L2206.8 1262.4 L2209.3 1262.4 L2211.8 1262.4 L2214.2 1262.4 L2216.7 1262.4 L2219.2 1262.3 L2221.7 1262.3 L2224.2 1262.3 L2226.7 1262.3 L2229.2 1262.3 L2231.7 1262.3 L2234.3 1262.3 L2236.8 1262.3 L2239.3 1262.4 L2241.8 1262.4 L2244.3 1262.4 L2246.8 1262.4 L2249.3 1262.4 L2251.8 1262.5 L2254.3 1262.5 L2256.9 1262.5 L2259.4 1262.6 L2261.9 1262.6 L2264.4 1262.7 L2267.0 1262.7 L2269.5 1262.8 L2272.0 1262.9 L2274.5 1262.9 L2277.1 1263.0 L2279.6 1263.1 L2282.1 1263.2 L2284.7 1263.3 L2287.2 1263.4 L2289.8 1263.5 L2292.3 1263.6 L2294.9 1263.7 L2297.4 1263.8 L2300.0 1263.9 L2302.4 1263.8" stroke="#e77b27" stroke-dasharray="5.51 5.51" stroke-dashoffset="10.9"/>
</g>
<g fill="none" stroke-width="5.5">
<path d="M355.5 1551.6H505" stroke="#4f6228" stroke-dasharray="22 16.5"/>
<path d="M1014.8 1551.6H1164.5" stroke="#7e60a2" stroke-dasharray="44.15 16.55 5.52 16.55 5.52 16.56"/>
<path d="M1665.5 1551.6H1815.6" stroke="#e77b27" stroke-dasharray="5.51 5.51"/>
</g>
<text id="leg1" font-size="63.2" y="1570.4"><tspan x="522.2" textLength="171.2" lengthAdjust="spacingAndGlyphs">EDMA</tspan> <tspan x="712.5" textLength="74.0" lengthAdjust="spacingAndGlyphs">air</tspan></text>
<text id="leg2" font-size="63.2" y="1570.4"><tspan x="1180.9" textLength="162.7" lengthAdjust="spacingAndGlyphs">EEMA</tspan> <tspan x="1363.5" textLength="73.3" lengthAdjust="spacingAndGlyphs">air</tspan></text>
<text id="leg3" font-size="63.2" y="1570.4"><tspan x="1829.0" textLength="146.5" lengthAdjust="spacingAndGlyphs">EIMA</tspan> <tspan x="1995.6" textLength="73.3" lengthAdjust="spacingAndGlyphs">air</tspan></text>
</svg></body></html>
